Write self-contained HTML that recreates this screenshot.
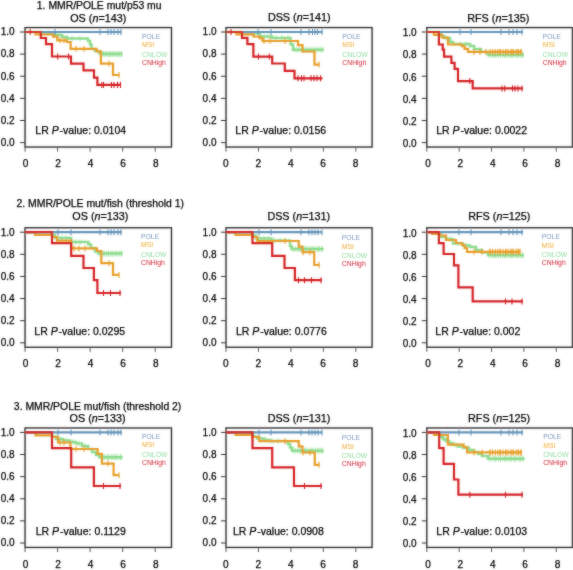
<!DOCTYPE html><html><head><meta charset="utf-8"><style>html,body{margin:0;padding:0;background:#fff;width:573px;height:570px;overflow:hidden}svg{display:block;will-change:transform}text{font-family:"Liberation Sans",sans-serif}.t{stroke:#000;stroke-width:0.25px}</style></head><body>
<svg width="573" height="570" viewBox="0 0 573 570">
<defs><filter id="bl" x="0" y="0" width="573" height="570" filterUnits="userSpaceOnUse"><feGaussianBlur in="SourceGraphic" stdDeviation="1" result="b"/><feComposite in="SourceGraphic" in2="b" operator="arithmetic" k1="0" k2="0.6" k3="0.4" k4="0"/></filter></defs><rect width="573" height="570" fill="#fff"/><g filter="url(#bl)">
<g><rect x="25.05" y="27.58" width="146.43" height="119.45" fill="none" stroke="#2a2a2a" stroke-width="1.35"/><line x1="20.05" y1="142.60" x2="25.05" y2="142.60" stroke="#333" stroke-width="1"/><text x="14.55" y="145.90" font-size="10" text-anchor="end" fill="#000" class="t">0.0</text><line x1="20.05" y1="120.48" x2="25.05" y2="120.48" stroke="#333" stroke-width="1"/><text x="14.55" y="123.78" font-size="10" text-anchor="end" fill="#000" class="t">0.2</text><line x1="20.05" y1="98.36" x2="25.05" y2="98.36" stroke="#333" stroke-width="1"/><text x="14.55" y="101.66" font-size="10" text-anchor="end" fill="#000" class="t">0.4</text><line x1="20.05" y1="76.24" x2="25.05" y2="76.24" stroke="#333" stroke-width="1"/><text x="14.55" y="79.54" font-size="10" text-anchor="end" fill="#000" class="t">0.6</text><line x1="20.05" y1="54.12" x2="25.05" y2="54.12" stroke="#333" stroke-width="1"/><text x="14.55" y="57.42" font-size="10" text-anchor="end" fill="#000" class="t">0.8</text><line x1="20.05" y1="32.00" x2="25.05" y2="32.00" stroke="#333" stroke-width="1"/><text x="14.55" y="35.30" font-size="10" text-anchor="end" fill="#000" class="t">1.0</text><line x1="25.05" y1="147.02" x2="25.05" y2="151.62" stroke="#555" stroke-width="1"/><text x="25.55" y="167.22" font-size="10.1" text-anchor="middle" fill="#000" class="t">0</text><line x1="57.59" y1="147.02" x2="57.59" y2="151.62" stroke="#555" stroke-width="1"/><text x="58.09" y="167.22" font-size="10.1" text-anchor="middle" fill="#000" class="t">2</text><line x1="90.13" y1="147.02" x2="90.13" y2="151.62" stroke="#555" stroke-width="1"/><text x="90.63" y="167.22" font-size="10.1" text-anchor="middle" fill="#000" class="t">4</text><line x1="122.67" y1="147.02" x2="122.67" y2="151.62" stroke="#555" stroke-width="1"/><text x="123.17" y="167.22" font-size="10.1" text-anchor="middle" fill="#000" class="t">6</text><line x1="155.21" y1="147.02" x2="155.21" y2="151.62" stroke="#555" stroke-width="1"/><text x="155.71" y="167.22" font-size="10.1" text-anchor="middle" fill="#000" class="t">8</text><text x="99.20" y="9.10" font-size="10.4" text-anchor="middle" fill="#000" class="t">1. MMR/POLE mut/p53 mu</text><text x="98.25" y="21.50" font-size="10.8" text-anchor="middle" fill="#000" class="t">OS (<tspan font-style="italic">n</tspan>=143)</text><text x="35.30" y="133.70" font-size="10.5" fill="#000" class="t">LR <tspan font-style="italic">P</tspan><tspan dx="0.9">-value: 0.0104</tspan></text><text x="142.00" y="38.60" font-size="7.2" fill="#7896bc" transform="translate(142.00,0) scale(0.95,1) translate(-142.00,0)">POLE</text><text x="142.00" y="47.00" font-size="7.2" fill="#eeaa30" transform="translate(142.00,0) scale(0.95,1) translate(-142.00,0)">MSI</text><text x="142.00" y="56.80" font-size="7.2" fill="#90dca0" transform="translate(142.00,0) scale(0.95,1) translate(-142.00,0)">CNLOW</text><text x="142.00" y="64.60" font-size="7.2" fill="#d02436" transform="translate(142.00,0) scale(0.95,1) translate(-142.00,0)">CNHigh</text><path d="M25.1,32.0H42.0V33.2H55.0V35.0H62.0V37.0H67.0V38.5H88.0V41.0H90.0V44.5H91.5V49.0H95.0V51.0H99.0V53.0H102.5V54.0H122.5" fill="none" stroke="#8cdc8e" stroke-width="2.5" stroke-linejoin="miter" stroke-linecap="butt"/><line x1="48.0" y1="30.2" x2="48.0" y2="36.2" stroke="#8cdc8e" stroke-width="0.9" stroke-opacity="0.75"/><line x1="58.0" y1="32.0" x2="58.0" y2="38.0" stroke="#8cdc8e" stroke-width="0.9" stroke-opacity="0.75"/><line x1="72.0" y1="35.5" x2="72.0" y2="41.5" stroke="#8cdc8e" stroke-width="0.9" stroke-opacity="0.75"/><line x1="80.0" y1="35.5" x2="80.0" y2="41.5" stroke="#8cdc8e" stroke-width="0.9" stroke-opacity="0.75"/><line x1="100.0" y1="50.0" x2="100.0" y2="56.0" stroke="#8cdc8e" stroke-width="0.9" stroke-opacity="0.75"/><line x1="103.0" y1="51.0" x2="103.0" y2="57.0" stroke="#8cdc8e" stroke-width="0.9" stroke-opacity="0.75"/><line x1="106.0" y1="51.0" x2="106.0" y2="57.0" stroke="#8cdc8e" stroke-width="0.9" stroke-opacity="0.75"/><line x1="109.0" y1="51.0" x2="109.0" y2="57.0" stroke="#8cdc8e" stroke-width="0.9" stroke-opacity="0.75"/><line x1="112.0" y1="51.0" x2="112.0" y2="57.0" stroke="#8cdc8e" stroke-width="0.9" stroke-opacity="0.75"/><line x1="115.0" y1="51.0" x2="115.0" y2="57.0" stroke="#8cdc8e" stroke-width="0.9" stroke-opacity="0.75"/><line x1="118.0" y1="51.0" x2="118.0" y2="57.0" stroke="#8cdc8e" stroke-width="0.9" stroke-opacity="0.75"/><line x1="121.0" y1="51.0" x2="121.0" y2="57.0" stroke="#8cdc8e" stroke-width="0.9" stroke-opacity="0.75"/><line x1="104.0" y1="51.0" x2="104.0" y2="57.0" stroke="#8cdc8e" stroke-width="0.9" stroke-opacity="0.75"/><line x1="106.2" y1="51.0" x2="106.2" y2="57.0" stroke="#8cdc8e" stroke-width="0.9" stroke-opacity="0.75"/><line x1="108.4" y1="51.0" x2="108.4" y2="57.0" stroke="#8cdc8e" stroke-width="0.9" stroke-opacity="0.75"/><line x1="110.6" y1="51.0" x2="110.6" y2="57.0" stroke="#8cdc8e" stroke-width="0.9" stroke-opacity="0.75"/><line x1="112.8" y1="51.0" x2="112.8" y2="57.0" stroke="#8cdc8e" stroke-width="0.9" stroke-opacity="0.75"/><line x1="115.0" y1="51.0" x2="115.0" y2="57.0" stroke="#8cdc8e" stroke-width="0.9" stroke-opacity="0.75"/><line x1="117.2" y1="51.0" x2="117.2" y2="57.0" stroke="#8cdc8e" stroke-width="0.9" stroke-opacity="0.75"/><line x1="119.4" y1="51.0" x2="119.4" y2="57.0" stroke="#8cdc8e" stroke-width="0.9" stroke-opacity="0.75"/><line x1="121.6" y1="51.0" x2="121.6" y2="57.0" stroke="#8cdc8e" stroke-width="0.9" stroke-opacity="0.75"/><path d="M25.1,32.0H35.5V34.5H53.0V36.6H57.3V40.3H66.9V42.0H70.6V48.8H96.6V51.4H100.9V63.6H113.0V75.0H119.5" fill="none" stroke="#e89e28" stroke-width="2.2" stroke-linejoin="miter" stroke-linecap="butt"/><line x1="60.0" y1="37.3" x2="60.0" y2="43.3" stroke="#e89e28" stroke-width="1.1" stroke-opacity="1"/><line x1="64.0" y1="37.3" x2="64.0" y2="43.3" stroke="#e89e28" stroke-width="1.1" stroke-opacity="1"/><line x1="76.0" y1="45.8" x2="76.0" y2="51.8" stroke="#e89e28" stroke-width="1.1" stroke-opacity="1"/><line x1="84.0" y1="45.8" x2="84.0" y2="51.8" stroke="#e89e28" stroke-width="1.1" stroke-opacity="1"/><line x1="109.0" y1="60.6" x2="109.0" y2="66.6" stroke="#e89e28" stroke-width="1.1" stroke-opacity="1"/><line x1="119.0" y1="72.0" x2="119.0" y2="78.0" stroke="#e89e28" stroke-width="1.1" stroke-opacity="1"/><path d="M25.1,32.0H121.5" fill="none" stroke="#6494b8" stroke-width="2.2" stroke-linejoin="miter" stroke-linecap="butt"/><line x1="55.0" y1="29.0" x2="55.0" y2="35.0" stroke="#6494b8" stroke-width="1.1" stroke-opacity="1"/><line x1="100.0" y1="29.0" x2="100.0" y2="35.0" stroke="#6494b8" stroke-width="1.1" stroke-opacity="1"/><line x1="108.0" y1="29.0" x2="108.0" y2="35.0" stroke="#6494b8" stroke-width="1.1" stroke-opacity="1"/><line x1="111.0" y1="29.0" x2="111.0" y2="35.0" stroke="#6494b8" stroke-width="1.1" stroke-opacity="1"/><line x1="114.0" y1="29.0" x2="114.0" y2="35.0" stroke="#6494b8" stroke-width="1.1" stroke-opacity="1"/><line x1="118.0" y1="29.0" x2="118.0" y2="35.0" stroke="#6494b8" stroke-width="1.1" stroke-opacity="1"/><line x1="121.0" y1="29.0" x2="121.0" y2="35.0" stroke="#6494b8" stroke-width="1.1" stroke-opacity="1"/><path d="M25.1,32.0H40.8V38.0H46.0V44.2H52.0V56.5H71.0V63.6H83.5V70.3H94.0V77.6H97.4V84.9H121.0" fill="none" stroke="#d41e22" stroke-width="2.2" stroke-linejoin="miter" stroke-linecap="butt"/><line x1="30.2" y1="29.0" x2="30.2" y2="35.0" stroke="#d41e22" stroke-width="1.1" stroke-opacity="1"/><line x1="57.7" y1="53.5" x2="57.7" y2="59.5" stroke="#d41e22" stroke-width="1.1" stroke-opacity="1"/><line x1="68.6" y1="53.5" x2="68.6" y2="59.5" stroke="#d41e22" stroke-width="1.1" stroke-opacity="1"/><line x1="101.8" y1="81.9" x2="101.8" y2="87.9" stroke="#d41e22" stroke-width="1.1" stroke-opacity="1"/><line x1="103.5" y1="81.9" x2="103.5" y2="87.9" stroke="#d41e22" stroke-width="1.1" stroke-opacity="1"/><line x1="111.4" y1="81.9" x2="111.4" y2="87.9" stroke="#d41e22" stroke-width="1.1" stroke-opacity="1"/><line x1="114.0" y1="81.9" x2="114.0" y2="87.9" stroke="#d41e22" stroke-width="1.1" stroke-opacity="1"/><line x1="117.5" y1="81.9" x2="117.5" y2="87.9" stroke="#d41e22" stroke-width="1.1" stroke-opacity="1"/><line x1="120.5" y1="81.9" x2="120.5" y2="87.9" stroke="#d41e22" stroke-width="1.1" stroke-opacity="1"/></g>
<g><rect x="226.00" y="27.58" width="146.07" height="119.45" fill="none" stroke="#2a2a2a" stroke-width="1.35"/><line x1="221.00" y1="142.60" x2="226.00" y2="142.60" stroke="#333" stroke-width="1"/><text x="216.50" y="145.90" font-size="10" text-anchor="end" fill="#000" class="t">0.0</text><line x1="221.00" y1="120.48" x2="226.00" y2="120.48" stroke="#333" stroke-width="1"/><text x="216.50" y="123.78" font-size="10" text-anchor="end" fill="#000" class="t">0.2</text><line x1="221.00" y1="98.36" x2="226.00" y2="98.36" stroke="#333" stroke-width="1"/><text x="216.50" y="101.66" font-size="10" text-anchor="end" fill="#000" class="t">0.4</text><line x1="221.00" y1="76.24" x2="226.00" y2="76.24" stroke="#333" stroke-width="1"/><text x="216.50" y="79.54" font-size="10" text-anchor="end" fill="#000" class="t">0.6</text><line x1="221.00" y1="54.12" x2="226.00" y2="54.12" stroke="#333" stroke-width="1"/><text x="216.50" y="57.42" font-size="10" text-anchor="end" fill="#000" class="t">0.8</text><line x1="221.00" y1="32.00" x2="226.00" y2="32.00" stroke="#333" stroke-width="1"/><text x="216.50" y="35.30" font-size="10" text-anchor="end" fill="#000" class="t">1.0</text><line x1="226.00" y1="147.02" x2="226.00" y2="151.62" stroke="#555" stroke-width="1"/><text x="225.80" y="167.22" font-size="10.1" text-anchor="middle" fill="#000" class="t">0</text><line x1="258.46" y1="147.02" x2="258.46" y2="151.62" stroke="#555" stroke-width="1"/><text x="258.26" y="167.22" font-size="10.1" text-anchor="middle" fill="#000" class="t">2</text><line x1="290.92" y1="147.02" x2="290.92" y2="151.62" stroke="#555" stroke-width="1"/><text x="290.72" y="167.22" font-size="10.1" text-anchor="middle" fill="#000" class="t">4</text><line x1="323.38" y1="147.02" x2="323.38" y2="151.62" stroke="#555" stroke-width="1"/><text x="323.18" y="167.22" font-size="10.1" text-anchor="middle" fill="#000" class="t">6</text><line x1="355.84" y1="147.02" x2="355.84" y2="151.62" stroke="#555" stroke-width="1"/><text x="355.64" y="167.22" font-size="10.1" text-anchor="middle" fill="#000" class="t">8</text><text x="299.25" y="21.40" font-size="10.8" text-anchor="middle" fill="#000" class="t">DSS (<tspan font-style="italic">n</tspan>=141)</text><text x="235.30" y="133.70" font-size="10.5" fill="#000" class="t">LR <tspan font-style="italic">P</tspan><tspan dx="0.9">-value: 0.0156</tspan></text><text x="342.30" y="38.60" font-size="7.2" fill="#7896bc" transform="translate(342.30,0) scale(0.95,1) translate(-342.30,0)">POLE</text><text x="342.30" y="47.00" font-size="7.2" fill="#eeaa30" transform="translate(342.30,0) scale(0.95,1) translate(-342.30,0)">MSI</text><text x="342.30" y="56.80" font-size="7.2" fill="#90dca0" transform="translate(342.30,0) scale(0.95,1) translate(-342.30,0)">CNLOW</text><text x="342.30" y="64.60" font-size="7.2" fill="#d02436" transform="translate(342.30,0) scale(0.95,1) translate(-342.30,0)">CNHigh</text><path d="M226.0,32.0H243.0V33.3H260.0V36.5H272.0V38.0H290.6V44.5H293.0V49.7H323.7" fill="none" stroke="#8cdc8e" stroke-width="2.5" stroke-linejoin="miter" stroke-linecap="butt"/><line x1="248.0" y1="30.3" x2="248.0" y2="36.3" stroke="#8cdc8e" stroke-width="0.9" stroke-opacity="0.75"/><line x1="254.0" y1="30.3" x2="254.0" y2="36.3" stroke="#8cdc8e" stroke-width="0.9" stroke-opacity="0.75"/><line x1="264.0" y1="33.5" x2="264.0" y2="39.5" stroke="#8cdc8e" stroke-width="0.9" stroke-opacity="0.75"/><line x1="268.0" y1="33.5" x2="268.0" y2="39.5" stroke="#8cdc8e" stroke-width="0.9" stroke-opacity="0.75"/><line x1="276.0" y1="35.0" x2="276.0" y2="41.0" stroke="#8cdc8e" stroke-width="0.9" stroke-opacity="0.75"/><line x1="282.0" y1="35.0" x2="282.0" y2="41.0" stroke="#8cdc8e" stroke-width="0.9" stroke-opacity="0.75"/><line x1="288.0" y1="35.0" x2="288.0" y2="41.0" stroke="#8cdc8e" stroke-width="0.9" stroke-opacity="0.75"/><line x1="294.5" y1="46.7" x2="294.5" y2="52.7" stroke="#8cdc8e" stroke-width="0.9" stroke-opacity="0.75"/><line x1="296.7" y1="46.7" x2="296.7" y2="52.7" stroke="#8cdc8e" stroke-width="0.9" stroke-opacity="0.75"/><line x1="298.9" y1="46.7" x2="298.9" y2="52.7" stroke="#8cdc8e" stroke-width="0.9" stroke-opacity="0.75"/><line x1="301.1" y1="46.7" x2="301.1" y2="52.7" stroke="#8cdc8e" stroke-width="0.9" stroke-opacity="0.75"/><line x1="303.3" y1="46.7" x2="303.3" y2="52.7" stroke="#8cdc8e" stroke-width="0.9" stroke-opacity="0.75"/><line x1="305.5" y1="46.7" x2="305.5" y2="52.7" stroke="#8cdc8e" stroke-width="0.9" stroke-opacity="0.75"/><line x1="307.7" y1="46.7" x2="307.7" y2="52.7" stroke="#8cdc8e" stroke-width="0.9" stroke-opacity="0.75"/><line x1="309.9" y1="46.7" x2="309.9" y2="52.7" stroke="#8cdc8e" stroke-width="0.9" stroke-opacity="0.75"/><line x1="312.1" y1="46.7" x2="312.1" y2="52.7" stroke="#8cdc8e" stroke-width="0.9" stroke-opacity="0.75"/><line x1="314.3" y1="46.7" x2="314.3" y2="52.7" stroke="#8cdc8e" stroke-width="0.9" stroke-opacity="0.75"/><line x1="316.5" y1="46.7" x2="316.5" y2="52.7" stroke="#8cdc8e" stroke-width="0.9" stroke-opacity="0.75"/><line x1="318.7" y1="46.7" x2="318.7" y2="52.7" stroke="#8cdc8e" stroke-width="0.9" stroke-opacity="0.75"/><line x1="320.9" y1="46.7" x2="320.9" y2="52.7" stroke="#8cdc8e" stroke-width="0.9" stroke-opacity="0.75"/><line x1="323.1" y1="46.7" x2="323.1" y2="52.7" stroke="#8cdc8e" stroke-width="0.9" stroke-opacity="0.75"/><path d="M226.0,32.0H236.5V34.4H253.4V36.5H259.5V38.2H262.5V41.0H298.0V45.2H302.5V51.5H314.5V64.6H319.5" fill="none" stroke="#e89e28" stroke-width="2.2" stroke-linejoin="miter" stroke-linecap="butt"/><line x1="264.0" y1="38.0" x2="264.0" y2="44.0" stroke="#e89e28" stroke-width="1.1" stroke-opacity="1"/><line x1="270.0" y1="38.0" x2="270.0" y2="44.0" stroke="#e89e28" stroke-width="1.1" stroke-opacity="1"/><line x1="285.0" y1="38.0" x2="285.0" y2="44.0" stroke="#e89e28" stroke-width="1.1" stroke-opacity="1"/><line x1="319.0" y1="61.6" x2="319.0" y2="67.6" stroke="#e89e28" stroke-width="1.1" stroke-opacity="1"/><path d="M226.0,32.0H322.5" fill="none" stroke="#6494b8" stroke-width="2.2" stroke-linejoin="miter" stroke-linecap="butt"/><line x1="258.0" y1="29.0" x2="258.0" y2="35.0" stroke="#6494b8" stroke-width="1.1" stroke-opacity="1"/><line x1="271.0" y1="29.0" x2="271.0" y2="35.0" stroke="#6494b8" stroke-width="1.1" stroke-opacity="1"/><line x1="301.0" y1="29.0" x2="301.0" y2="35.0" stroke="#6494b8" stroke-width="1.1" stroke-opacity="1"/><line x1="309.0" y1="29.0" x2="309.0" y2="35.0" stroke="#6494b8" stroke-width="1.1" stroke-opacity="1"/><line x1="312.5" y1="29.0" x2="312.5" y2="35.0" stroke="#6494b8" stroke-width="1.1" stroke-opacity="1"/><line x1="315.0" y1="29.0" x2="315.0" y2="35.0" stroke="#6494b8" stroke-width="1.1" stroke-opacity="1"/><line x1="317.5" y1="29.0" x2="317.5" y2="35.0" stroke="#6494b8" stroke-width="1.1" stroke-opacity="1"/><line x1="322.0" y1="29.0" x2="322.0" y2="35.0" stroke="#6494b8" stroke-width="1.1" stroke-opacity="1"/><path d="M226.0,32.0H242.0V37.8H247.4V44.1H253.4V56.6H272.2V63.5H284.8V70.9H294.5V78.3H322.5" fill="none" stroke="#d41e22" stroke-width="2.2" stroke-linejoin="miter" stroke-linecap="butt"/><line x1="231.0" y1="29.0" x2="231.0" y2="35.0" stroke="#d41e22" stroke-width="1.1" stroke-opacity="1"/><line x1="258.5" y1="53.6" x2="258.5" y2="59.6" stroke="#d41e22" stroke-width="1.1" stroke-opacity="1"/><line x1="269.3" y1="53.6" x2="269.3" y2="59.6" stroke="#d41e22" stroke-width="1.1" stroke-opacity="1"/><line x1="298.0" y1="75.3" x2="298.0" y2="81.3" stroke="#d41e22" stroke-width="1.1" stroke-opacity="1"/><line x1="301.5" y1="75.3" x2="301.5" y2="81.3" stroke="#d41e22" stroke-width="1.1" stroke-opacity="1"/><line x1="304.0" y1="75.3" x2="304.0" y2="81.3" stroke="#d41e22" stroke-width="1.1" stroke-opacity="1"/><line x1="311.0" y1="75.3" x2="311.0" y2="81.3" stroke="#d41e22" stroke-width="1.1" stroke-opacity="1"/><line x1="314.0" y1="75.3" x2="314.0" y2="81.3" stroke="#d41e22" stroke-width="1.1" stroke-opacity="1"/><line x1="317.0" y1="75.3" x2="317.0" y2="81.3" stroke="#d41e22" stroke-width="1.1" stroke-opacity="1"/><line x1="320.5" y1="75.3" x2="320.5" y2="81.3" stroke="#d41e22" stroke-width="1.1" stroke-opacity="1"/></g>
<g><rect x="426.80" y="27.58" width="145.62" height="119.45" fill="none" stroke="#2a2a2a" stroke-width="1.35"/><line x1="421.80" y1="142.60" x2="426.80" y2="142.60" stroke="#333" stroke-width="1"/><text x="416.70" y="146.90" font-size="10" text-anchor="end" fill="#000" class="t">0.0</text><line x1="421.80" y1="120.48" x2="426.80" y2="120.48" stroke="#333" stroke-width="1"/><text x="416.70" y="124.78" font-size="10" text-anchor="end" fill="#000" class="t">0.2</text><line x1="421.80" y1="98.36" x2="426.80" y2="98.36" stroke="#333" stroke-width="1"/><text x="416.70" y="102.66" font-size="10" text-anchor="end" fill="#000" class="t">0.4</text><line x1="421.80" y1="76.24" x2="426.80" y2="76.24" stroke="#333" stroke-width="1"/><text x="416.70" y="80.54" font-size="10" text-anchor="end" fill="#000" class="t">0.6</text><line x1="421.80" y1="54.12" x2="426.80" y2="54.12" stroke="#333" stroke-width="1"/><text x="416.70" y="58.42" font-size="10" text-anchor="end" fill="#000" class="t">0.8</text><line x1="421.80" y1="32.00" x2="426.80" y2="32.00" stroke="#333" stroke-width="1"/><text x="416.70" y="36.30" font-size="10" text-anchor="end" fill="#000" class="t">1.0</text><line x1="426.80" y1="147.02" x2="426.80" y2="151.62" stroke="#555" stroke-width="1"/><text x="428.00" y="167.22" font-size="10.1" text-anchor="middle" fill="#000" class="t">0</text><line x1="459.16" y1="147.02" x2="459.16" y2="151.62" stroke="#555" stroke-width="1"/><text x="460.36" y="167.22" font-size="10.1" text-anchor="middle" fill="#000" class="t">2</text><line x1="491.52" y1="147.02" x2="491.52" y2="151.62" stroke="#555" stroke-width="1"/><text x="492.72" y="167.22" font-size="10.1" text-anchor="middle" fill="#000" class="t">4</text><line x1="523.88" y1="147.02" x2="523.88" y2="151.62" stroke="#555" stroke-width="1"/><text x="525.08" y="167.22" font-size="10.1" text-anchor="middle" fill="#000" class="t">6</text><line x1="556.24" y1="147.02" x2="556.24" y2="151.62" stroke="#555" stroke-width="1"/><text x="557.44" y="167.22" font-size="10.1" text-anchor="middle" fill="#000" class="t">8</text><text x="498.25" y="21.50" font-size="10.8" text-anchor="middle" fill="#000" class="t">RFS (<tspan font-style="italic">n</tspan>=135)</text><text x="436.20" y="133.70" font-size="10.5" fill="#000" class="t">LR <tspan font-style="italic">P</tspan><tspan dx="0.9">-value: 0.0022</tspan></text><text x="542.70" y="38.60" font-size="7.2" fill="#7896bc" transform="translate(542.70,0) scale(0.95,1) translate(-542.70,0)">POLE</text><text x="542.70" y="47.00" font-size="7.2" fill="#eeaa30" transform="translate(542.70,0) scale(0.95,1) translate(-542.70,0)">MSI</text><text x="542.70" y="56.80" font-size="7.2" fill="#90dca0" transform="translate(542.70,0) scale(0.95,1) translate(-542.70,0)">CNLOW</text><text x="542.70" y="64.60" font-size="7.2" fill="#d02436" transform="translate(542.70,0) scale(0.95,1) translate(-542.70,0)">CNHigh</text><path d="M426.8,32.0H439.0V34.0H441.0V36.0H444.0V38.0H450.0V42.0H453.0V44.0H470.0V46.0H474.0V49.0H481.0V52.0H488.0V54.9H524.0" fill="none" stroke="#8cdc8e" stroke-width="2.5" stroke-linejoin="miter" stroke-linecap="butt"/><line x1="446.0" y1="35.0" x2="446.0" y2="41.0" stroke="#8cdc8e" stroke-width="0.9" stroke-opacity="0.75"/><line x1="460.0" y1="41.0" x2="460.0" y2="47.0" stroke="#8cdc8e" stroke-width="0.9" stroke-opacity="0.75"/><line x1="466.0" y1="41.0" x2="466.0" y2="47.0" stroke="#8cdc8e" stroke-width="0.9" stroke-opacity="0.75"/><line x1="495.0" y1="51.9" x2="495.0" y2="57.9" stroke="#8cdc8e" stroke-width="0.9" stroke-opacity="0.75"/><line x1="505.0" y1="51.9" x2="505.0" y2="57.9" stroke="#8cdc8e" stroke-width="0.9" stroke-opacity="0.75"/><line x1="512.0" y1="51.9" x2="512.0" y2="57.9" stroke="#8cdc8e" stroke-width="0.9" stroke-opacity="0.75"/><line x1="518.0" y1="51.9" x2="518.0" y2="57.9" stroke="#8cdc8e" stroke-width="0.9" stroke-opacity="0.75"/><line x1="523.0" y1="51.9" x2="523.0" y2="57.9" stroke="#8cdc8e" stroke-width="0.9" stroke-opacity="0.75"/><line x1="489.5" y1="51.9" x2="489.5" y2="57.9" stroke="#8cdc8e" stroke-width="0.9" stroke-opacity="0.75"/><line x1="491.7" y1="51.9" x2="491.7" y2="57.9" stroke="#8cdc8e" stroke-width="0.9" stroke-opacity="0.75"/><line x1="493.9" y1="51.9" x2="493.9" y2="57.9" stroke="#8cdc8e" stroke-width="0.9" stroke-opacity="0.75"/><line x1="496.1" y1="51.9" x2="496.1" y2="57.9" stroke="#8cdc8e" stroke-width="0.9" stroke-opacity="0.75"/><line x1="498.3" y1="51.9" x2="498.3" y2="57.9" stroke="#8cdc8e" stroke-width="0.9" stroke-opacity="0.75"/><line x1="500.5" y1="51.9" x2="500.5" y2="57.9" stroke="#8cdc8e" stroke-width="0.9" stroke-opacity="0.75"/><line x1="502.7" y1="51.9" x2="502.7" y2="57.9" stroke="#8cdc8e" stroke-width="0.9" stroke-opacity="0.75"/><line x1="504.9" y1="51.9" x2="504.9" y2="57.9" stroke="#8cdc8e" stroke-width="0.9" stroke-opacity="0.75"/><line x1="507.1" y1="51.9" x2="507.1" y2="57.9" stroke="#8cdc8e" stroke-width="0.9" stroke-opacity="0.75"/><line x1="509.3" y1="51.9" x2="509.3" y2="57.9" stroke="#8cdc8e" stroke-width="0.9" stroke-opacity="0.75"/><line x1="511.5" y1="51.9" x2="511.5" y2="57.9" stroke="#8cdc8e" stroke-width="0.9" stroke-opacity="0.75"/><line x1="513.7" y1="51.9" x2="513.7" y2="57.9" stroke="#8cdc8e" stroke-width="0.9" stroke-opacity="0.75"/><line x1="515.9" y1="51.9" x2="515.9" y2="57.9" stroke="#8cdc8e" stroke-width="0.9" stroke-opacity="0.75"/><line x1="518.1" y1="51.9" x2="518.1" y2="57.9" stroke="#8cdc8e" stroke-width="0.9" stroke-opacity="0.75"/><line x1="520.3" y1="51.9" x2="520.3" y2="57.9" stroke="#8cdc8e" stroke-width="0.9" stroke-opacity="0.75"/><line x1="522.5" y1="51.9" x2="522.5" y2="57.9" stroke="#8cdc8e" stroke-width="0.9" stroke-opacity="0.75"/><path d="M426.8,32.0H434.0V34.9H442.0V37.5H448.0V44.5H462.0V46.2H464.5V48.8H468.0V51.9H522.1" fill="none" stroke="#e89e28" stroke-width="2.2" stroke-linejoin="miter" stroke-linecap="butt"/><line x1="474.0" y1="48.9" x2="474.0" y2="54.9" stroke="#e89e28" stroke-width="1.1" stroke-opacity="1"/><line x1="480.0" y1="48.9" x2="480.0" y2="54.9" stroke="#e89e28" stroke-width="1.1" stroke-opacity="1"/><line x1="486.0" y1="48.9" x2="486.0" y2="54.9" stroke="#e89e28" stroke-width="1.1" stroke-opacity="1"/><line x1="500.0" y1="48.9" x2="500.0" y2="54.9" stroke="#e89e28" stroke-width="1.1" stroke-opacity="1"/><line x1="506.0" y1="48.9" x2="506.0" y2="54.9" stroke="#e89e28" stroke-width="1.1" stroke-opacity="1"/><line x1="512.0" y1="48.9" x2="512.0" y2="54.9" stroke="#e89e28" stroke-width="1.1" stroke-opacity="1"/><line x1="518.0" y1="48.9" x2="518.0" y2="54.9" stroke="#e89e28" stroke-width="1.1" stroke-opacity="1"/><line x1="521.0" y1="48.9" x2="521.0" y2="54.9" stroke="#e89e28" stroke-width="1.1" stroke-opacity="1"/><line x1="490.0" y1="48.9" x2="490.0" y2="54.9" stroke="#e89e28" stroke-width="1.1" stroke-opacity="1"/><line x1="492.6" y1="48.9" x2="492.6" y2="54.9" stroke="#e89e28" stroke-width="1.1" stroke-opacity="1"/><line x1="495.2" y1="48.9" x2="495.2" y2="54.9" stroke="#e89e28" stroke-width="1.1" stroke-opacity="1"/><line x1="497.8" y1="48.9" x2="497.8" y2="54.9" stroke="#e89e28" stroke-width="1.1" stroke-opacity="1"/><line x1="500.4" y1="48.9" x2="500.4" y2="54.9" stroke="#e89e28" stroke-width="1.1" stroke-opacity="1"/><line x1="503.0" y1="48.9" x2="503.0" y2="54.9" stroke="#e89e28" stroke-width="1.1" stroke-opacity="1"/><line x1="505.6" y1="48.9" x2="505.6" y2="54.9" stroke="#e89e28" stroke-width="1.1" stroke-opacity="1"/><line x1="508.2" y1="48.9" x2="508.2" y2="54.9" stroke="#e89e28" stroke-width="1.1" stroke-opacity="1"/><line x1="510.8" y1="48.9" x2="510.8" y2="54.9" stroke="#e89e28" stroke-width="1.1" stroke-opacity="1"/><line x1="513.4" y1="48.9" x2="513.4" y2="54.9" stroke="#e89e28" stroke-width="1.1" stroke-opacity="1"/><line x1="516.0" y1="48.9" x2="516.0" y2="54.9" stroke="#e89e28" stroke-width="1.1" stroke-opacity="1"/><line x1="518.6" y1="48.9" x2="518.6" y2="54.9" stroke="#e89e28" stroke-width="1.1" stroke-opacity="1"/><line x1="521.2" y1="48.9" x2="521.2" y2="54.9" stroke="#e89e28" stroke-width="1.1" stroke-opacity="1"/><path d="M426.8,32.0H523.0" fill="none" stroke="#6494b8" stroke-width="2.2" stroke-linejoin="miter" stroke-linecap="butt"/><line x1="460.0" y1="29.0" x2="460.0" y2="35.0" stroke="#6494b8" stroke-width="1.1" stroke-opacity="1"/><line x1="471.0" y1="29.0" x2="471.0" y2="35.0" stroke="#6494b8" stroke-width="1.1" stroke-opacity="1"/><line x1="501.0" y1="29.0" x2="501.0" y2="35.0" stroke="#6494b8" stroke-width="1.1" stroke-opacity="1"/><line x1="509.0" y1="29.0" x2="509.0" y2="35.0" stroke="#6494b8" stroke-width="1.1" stroke-opacity="1"/><line x1="513.0" y1="29.0" x2="513.0" y2="35.0" stroke="#6494b8" stroke-width="1.1" stroke-opacity="1"/><line x1="517.0" y1="29.0" x2="517.0" y2="35.0" stroke="#6494b8" stroke-width="1.1" stroke-opacity="1"/><line x1="522.0" y1="29.0" x2="522.0" y2="35.0" stroke="#6494b8" stroke-width="1.1" stroke-opacity="1"/><path d="M426.8,32.0H438.9V44.5H442.7V49.7H444.1V56.7H451.4V62.8H454.6V68.9H458.0V81.1H472.7V88.4H523.0" fill="none" stroke="#d41e22" stroke-width="2.2" stroke-linejoin="miter" stroke-linecap="butt"/><line x1="469.8" y1="78.1" x2="469.8" y2="84.1" stroke="#d41e22" stroke-width="1.1" stroke-opacity="1"/><line x1="502.0" y1="85.4" x2="502.0" y2="91.4" stroke="#d41e22" stroke-width="1.1" stroke-opacity="1"/><line x1="504.7" y1="85.4" x2="504.7" y2="91.4" stroke="#d41e22" stroke-width="1.1" stroke-opacity="1"/><line x1="512.5" y1="85.4" x2="512.5" y2="91.4" stroke="#d41e22" stroke-width="1.1" stroke-opacity="1"/><line x1="515.0" y1="85.4" x2="515.0" y2="91.4" stroke="#d41e22" stroke-width="1.1" stroke-opacity="1"/><line x1="518.0" y1="85.4" x2="518.0" y2="91.4" stroke="#d41e22" stroke-width="1.1" stroke-opacity="1"/><line x1="522.0" y1="85.4" x2="522.0" y2="91.4" stroke="#d41e22" stroke-width="1.1" stroke-opacity="1"/></g>
<g><rect x="25.05" y="227.78" width="146.43" height="119.45" fill="none" stroke="#2a2a2a" stroke-width="1.35"/><line x1="20.05" y1="342.80" x2="25.05" y2="342.80" stroke="#333" stroke-width="1"/><text x="14.55" y="346.10" font-size="10" text-anchor="end" fill="#000" class="t">0.0</text><line x1="20.05" y1="320.68" x2="25.05" y2="320.68" stroke="#333" stroke-width="1"/><text x="14.55" y="323.98" font-size="10" text-anchor="end" fill="#000" class="t">0.2</text><line x1="20.05" y1="298.56" x2="25.05" y2="298.56" stroke="#333" stroke-width="1"/><text x="14.55" y="301.86" font-size="10" text-anchor="end" fill="#000" class="t">0.4</text><line x1="20.05" y1="276.44" x2="25.05" y2="276.44" stroke="#333" stroke-width="1"/><text x="14.55" y="279.74" font-size="10" text-anchor="end" fill="#000" class="t">0.6</text><line x1="20.05" y1="254.32" x2="25.05" y2="254.32" stroke="#333" stroke-width="1"/><text x="14.55" y="257.62" font-size="10" text-anchor="end" fill="#000" class="t">0.8</text><line x1="20.05" y1="232.20" x2="25.05" y2="232.20" stroke="#333" stroke-width="1"/><text x="14.55" y="235.50" font-size="10" text-anchor="end" fill="#000" class="t">1.0</text><line x1="25.05" y1="347.22" x2="25.05" y2="351.82" stroke="#555" stroke-width="1"/><text x="25.55" y="367.42" font-size="10.1" text-anchor="middle" fill="#000" class="t">0</text><line x1="57.59" y1="347.22" x2="57.59" y2="351.82" stroke="#555" stroke-width="1"/><text x="58.09" y="367.42" font-size="10.1" text-anchor="middle" fill="#000" class="t">2</text><line x1="90.13" y1="347.22" x2="90.13" y2="351.82" stroke="#555" stroke-width="1"/><text x="90.63" y="367.42" font-size="10.1" text-anchor="middle" fill="#000" class="t">4</text><line x1="122.67" y1="347.22" x2="122.67" y2="351.82" stroke="#555" stroke-width="1"/><text x="123.17" y="367.42" font-size="10.1" text-anchor="middle" fill="#000" class="t">6</text><line x1="155.21" y1="347.22" x2="155.21" y2="351.82" stroke="#555" stroke-width="1"/><text x="155.71" y="367.42" font-size="10.1" text-anchor="middle" fill="#000" class="t">8</text><text x="100.30" y="206.90" font-size="10.4" text-anchor="middle" fill="#000" class="t">2. MMR/POLE mut/fish (threshold 1)</text><text x="100.40" y="219.70" font-size="10.8" text-anchor="middle" fill="#000" class="t">OS (<tspan font-style="italic">n</tspan>=133)</text><text x="34.30" y="334.70" font-size="10.5" fill="#000" class="t">LR <tspan font-style="italic">P</tspan><tspan dx="0.9">-value: 0.0295</tspan></text><text x="141.00" y="238.80" font-size="7.2" fill="#7896bc" transform="translate(141.00,0) scale(0.95,1) translate(-141.00,0)">POLE</text><text x="141.00" y="247.20" font-size="7.2" fill="#eeaa30" transform="translate(141.00,0) scale(0.95,1) translate(-141.00,0)">MSI</text><text x="141.00" y="257.00" font-size="7.2" fill="#90dca0" transform="translate(141.00,0) scale(0.95,1) translate(-141.00,0)">CNLOW</text><text x="141.00" y="264.80" font-size="7.2" fill="#d02436" transform="translate(141.00,0) scale(0.95,1) translate(-141.00,0)">CNHigh</text><path d="M25.1,232.2H52.0V235.0H55.0V238.0H71.2V242.0H88.4V244.5H91.0V248.0H95.0V251.5H98.2V253.6H122.7" fill="none" stroke="#8cdc8e" stroke-width="2.5" stroke-linejoin="miter" stroke-linecap="butt"/><line x1="58.0" y1="235.0" x2="58.0" y2="241.0" stroke="#8cdc8e" stroke-width="0.9" stroke-opacity="0.75"/><line x1="62.0" y1="235.0" x2="62.0" y2="241.0" stroke="#8cdc8e" stroke-width="0.9" stroke-opacity="0.75"/><line x1="66.0" y1="235.0" x2="66.0" y2="241.0" stroke="#8cdc8e" stroke-width="0.9" stroke-opacity="0.75"/><line x1="76.0" y1="239.0" x2="76.0" y2="245.0" stroke="#8cdc8e" stroke-width="0.9" stroke-opacity="0.75"/><line x1="80.0" y1="239.0" x2="80.0" y2="245.0" stroke="#8cdc8e" stroke-width="0.9" stroke-opacity="0.75"/><line x1="104.0" y1="250.6" x2="104.0" y2="256.6" stroke="#8cdc8e" stroke-width="0.9" stroke-opacity="0.75"/><line x1="108.0" y1="250.6" x2="108.0" y2="256.6" stroke="#8cdc8e" stroke-width="0.9" stroke-opacity="0.75"/><line x1="112.0" y1="250.6" x2="112.0" y2="256.6" stroke="#8cdc8e" stroke-width="0.9" stroke-opacity="0.75"/><line x1="116.0" y1="250.6" x2="116.0" y2="256.6" stroke="#8cdc8e" stroke-width="0.9" stroke-opacity="0.75"/><line x1="121.0" y1="250.6" x2="121.0" y2="256.6" stroke="#8cdc8e" stroke-width="0.9" stroke-opacity="0.75"/><line x1="99.7" y1="250.6" x2="99.7" y2="256.6" stroke="#8cdc8e" stroke-width="0.9" stroke-opacity="0.75"/><line x1="101.9" y1="250.6" x2="101.9" y2="256.6" stroke="#8cdc8e" stroke-width="0.9" stroke-opacity="0.75"/><line x1="104.1" y1="250.6" x2="104.1" y2="256.6" stroke="#8cdc8e" stroke-width="0.9" stroke-opacity="0.75"/><line x1="106.3" y1="250.6" x2="106.3" y2="256.6" stroke="#8cdc8e" stroke-width="0.9" stroke-opacity="0.75"/><line x1="108.5" y1="250.6" x2="108.5" y2="256.6" stroke="#8cdc8e" stroke-width="0.9" stroke-opacity="0.75"/><line x1="110.7" y1="250.6" x2="110.7" y2="256.6" stroke="#8cdc8e" stroke-width="0.9" stroke-opacity="0.75"/><line x1="112.9" y1="250.6" x2="112.9" y2="256.6" stroke="#8cdc8e" stroke-width="0.9" stroke-opacity="0.75"/><line x1="115.1" y1="250.6" x2="115.1" y2="256.6" stroke="#8cdc8e" stroke-width="0.9" stroke-opacity="0.75"/><line x1="117.3" y1="250.6" x2="117.3" y2="256.6" stroke="#8cdc8e" stroke-width="0.9" stroke-opacity="0.75"/><line x1="119.5" y1="250.6" x2="119.5" y2="256.6" stroke="#8cdc8e" stroke-width="0.9" stroke-opacity="0.75"/><line x1="121.7" y1="250.6" x2="121.7" y2="256.6" stroke="#8cdc8e" stroke-width="0.9" stroke-opacity="0.75"/><path d="M25.1,232.2H35.0V235.0H52.0V237.0H57.0V240.7H71.2V248.4H97.0V251.0H101.3V263.2H113.0V274.9H119.2" fill="none" stroke="#e89e28" stroke-width="2.2" stroke-linejoin="miter" stroke-linecap="butt"/><line x1="74.0" y1="245.4" x2="74.0" y2="251.4" stroke="#e89e28" stroke-width="1.1" stroke-opacity="1"/><line x1="79.0" y1="245.4" x2="79.0" y2="251.4" stroke="#e89e28" stroke-width="1.1" stroke-opacity="1"/><line x1="85.0" y1="245.4" x2="85.0" y2="251.4" stroke="#e89e28" stroke-width="1.1" stroke-opacity="1"/><line x1="109.0" y1="260.2" x2="109.0" y2="266.2" stroke="#e89e28" stroke-width="1.1" stroke-opacity="1"/><line x1="119.0" y1="271.9" x2="119.0" y2="277.9" stroke="#e89e28" stroke-width="1.1" stroke-opacity="1"/><path d="M25.1,232.2H122.0" fill="none" stroke="#6494b8" stroke-width="2.2" stroke-linejoin="miter" stroke-linecap="butt"/><line x1="58.0" y1="229.2" x2="58.0" y2="235.2" stroke="#6494b8" stroke-width="1.1" stroke-opacity="1"/><line x1="71.0" y1="229.2" x2="71.0" y2="235.2" stroke="#6494b8" stroke-width="1.1" stroke-opacity="1"/><line x1="100.0" y1="229.2" x2="100.0" y2="235.2" stroke="#6494b8" stroke-width="1.1" stroke-opacity="1"/><line x1="108.0" y1="229.2" x2="108.0" y2="235.2" stroke="#6494b8" stroke-width="1.1" stroke-opacity="1"/><line x1="111.0" y1="229.2" x2="111.0" y2="235.2" stroke="#6494b8" stroke-width="1.1" stroke-opacity="1"/><line x1="114.0" y1="229.2" x2="114.0" y2="235.2" stroke="#6494b8" stroke-width="1.1" stroke-opacity="1"/><line x1="118.0" y1="229.2" x2="118.0" y2="235.2" stroke="#6494b8" stroke-width="1.1" stroke-opacity="1"/><line x1="121.0" y1="229.2" x2="121.0" y2="235.2" stroke="#6494b8" stroke-width="1.1" stroke-opacity="1"/><path d="M25.1,232.2H52.0V243.1H71.2V255.8H83.5V268.0H93.9V280.2H97.4V293.0H121.0" fill="none" stroke="#d41e22" stroke-width="2.2" stroke-linejoin="miter" stroke-linecap="butt"/><line x1="103.5" y1="290.0" x2="103.5" y2="296.0" stroke="#d41e22" stroke-width="1.1" stroke-opacity="1"/><line x1="110.5" y1="290.0" x2="110.5" y2="296.0" stroke="#d41e22" stroke-width="1.1" stroke-opacity="1"/><line x1="120.0" y1="290.0" x2="120.0" y2="296.0" stroke="#d41e22" stroke-width="1.1" stroke-opacity="1"/></g>
<g><rect x="226.00" y="227.78" width="146.07" height="119.45" fill="none" stroke="#2a2a2a" stroke-width="1.35"/><line x1="221.00" y1="342.80" x2="226.00" y2="342.80" stroke="#333" stroke-width="1"/><text x="216.50" y="346.10" font-size="10" text-anchor="end" fill="#000" class="t">0.0</text><line x1="221.00" y1="320.68" x2="226.00" y2="320.68" stroke="#333" stroke-width="1"/><text x="216.50" y="323.98" font-size="10" text-anchor="end" fill="#000" class="t">0.2</text><line x1="221.00" y1="298.56" x2="226.00" y2="298.56" stroke="#333" stroke-width="1"/><text x="216.50" y="301.86" font-size="10" text-anchor="end" fill="#000" class="t">0.4</text><line x1="221.00" y1="276.44" x2="226.00" y2="276.44" stroke="#333" stroke-width="1"/><text x="216.50" y="279.74" font-size="10" text-anchor="end" fill="#000" class="t">0.6</text><line x1="221.00" y1="254.32" x2="226.00" y2="254.32" stroke="#333" stroke-width="1"/><text x="216.50" y="257.62" font-size="10" text-anchor="end" fill="#000" class="t">0.8</text><line x1="221.00" y1="232.20" x2="226.00" y2="232.20" stroke="#333" stroke-width="1"/><text x="216.50" y="235.50" font-size="10" text-anchor="end" fill="#000" class="t">1.0</text><line x1="226.00" y1="347.22" x2="226.00" y2="351.82" stroke="#555" stroke-width="1"/><text x="225.80" y="367.42" font-size="10.1" text-anchor="middle" fill="#000" class="t">0</text><line x1="258.46" y1="347.22" x2="258.46" y2="351.82" stroke="#555" stroke-width="1"/><text x="258.26" y="367.42" font-size="10.1" text-anchor="middle" fill="#000" class="t">2</text><line x1="290.92" y1="347.22" x2="290.92" y2="351.82" stroke="#555" stroke-width="1"/><text x="290.72" y="367.42" font-size="10.1" text-anchor="middle" fill="#000" class="t">4</text><line x1="323.38" y1="347.22" x2="323.38" y2="351.82" stroke="#555" stroke-width="1"/><text x="323.18" y="367.42" font-size="10.1" text-anchor="middle" fill="#000" class="t">6</text><line x1="355.84" y1="347.22" x2="355.84" y2="351.82" stroke="#555" stroke-width="1"/><text x="355.64" y="367.42" font-size="10.1" text-anchor="middle" fill="#000" class="t">8</text><text x="298.75" y="219.90" font-size="10.8" text-anchor="middle" fill="#000" class="t">DSS (<tspan font-style="italic">n</tspan>=131)</text><text x="236.00" y="334.70" font-size="10.5" fill="#000" class="t">LR <tspan font-style="italic">P</tspan><tspan dx="0.9">-value: 0.0776</tspan></text><text x="341.80" y="240.30" font-size="7.2" fill="#7896bc" transform="translate(341.80,0) scale(0.95,1) translate(-341.80,0)">POLE</text><text x="341.80" y="248.70" font-size="7.2" fill="#eeaa30" transform="translate(341.80,0) scale(0.95,1) translate(-341.80,0)">MSI</text><text x="341.80" y="258.50" font-size="7.2" fill="#90dca0" transform="translate(341.80,0) scale(0.95,1) translate(-341.80,0)">CNLOW</text><text x="341.80" y="266.30" font-size="7.2" fill="#d02436" transform="translate(341.80,0) scale(0.95,1) translate(-341.80,0)">CNHigh</text><path d="M226.0,232.2H252.5V235.5H256.0V238.5H271.4V240.5H290.0V246.0H291.5V249.1H323.7" fill="none" stroke="#8cdc8e" stroke-width="2.5" stroke-linejoin="miter" stroke-linecap="butt"/><line x1="260.0" y1="235.5" x2="260.0" y2="241.5" stroke="#8cdc8e" stroke-width="0.9" stroke-opacity="0.75"/><line x1="264.0" y1="235.5" x2="264.0" y2="241.5" stroke="#8cdc8e" stroke-width="0.9" stroke-opacity="0.75"/><line x1="268.0" y1="235.5" x2="268.0" y2="241.5" stroke="#8cdc8e" stroke-width="0.9" stroke-opacity="0.75"/><line x1="274.0" y1="237.5" x2="274.0" y2="243.5" stroke="#8cdc8e" stroke-width="0.9" stroke-opacity="0.75"/><line x1="280.0" y1="237.5" x2="280.0" y2="243.5" stroke="#8cdc8e" stroke-width="0.9" stroke-opacity="0.75"/><line x1="300.0" y1="246.1" x2="300.0" y2="252.1" stroke="#8cdc8e" stroke-width="0.9" stroke-opacity="0.75"/><line x1="306.0" y1="246.1" x2="306.0" y2="252.1" stroke="#8cdc8e" stroke-width="0.9" stroke-opacity="0.75"/><line x1="312.0" y1="246.1" x2="312.0" y2="252.1" stroke="#8cdc8e" stroke-width="0.9" stroke-opacity="0.75"/><line x1="318.0" y1="246.1" x2="318.0" y2="252.1" stroke="#8cdc8e" stroke-width="0.9" stroke-opacity="0.75"/><line x1="322.0" y1="246.1" x2="322.0" y2="252.1" stroke="#8cdc8e" stroke-width="0.9" stroke-opacity="0.75"/><line x1="293.0" y1="246.1" x2="293.0" y2="252.1" stroke="#8cdc8e" stroke-width="0.9" stroke-opacity="0.75"/><line x1="295.2" y1="246.1" x2="295.2" y2="252.1" stroke="#8cdc8e" stroke-width="0.9" stroke-opacity="0.75"/><line x1="297.4" y1="246.1" x2="297.4" y2="252.1" stroke="#8cdc8e" stroke-width="0.9" stroke-opacity="0.75"/><line x1="299.6" y1="246.1" x2="299.6" y2="252.1" stroke="#8cdc8e" stroke-width="0.9" stroke-opacity="0.75"/><line x1="301.8" y1="246.1" x2="301.8" y2="252.1" stroke="#8cdc8e" stroke-width="0.9" stroke-opacity="0.75"/><line x1="304.0" y1="246.1" x2="304.0" y2="252.1" stroke="#8cdc8e" stroke-width="0.9" stroke-opacity="0.75"/><line x1="306.2" y1="246.1" x2="306.2" y2="252.1" stroke="#8cdc8e" stroke-width="0.9" stroke-opacity="0.75"/><line x1="308.4" y1="246.1" x2="308.4" y2="252.1" stroke="#8cdc8e" stroke-width="0.9" stroke-opacity="0.75"/><line x1="310.6" y1="246.1" x2="310.6" y2="252.1" stroke="#8cdc8e" stroke-width="0.9" stroke-opacity="0.75"/><line x1="312.8" y1="246.1" x2="312.8" y2="252.1" stroke="#8cdc8e" stroke-width="0.9" stroke-opacity="0.75"/><line x1="315.0" y1="246.1" x2="315.0" y2="252.1" stroke="#8cdc8e" stroke-width="0.9" stroke-opacity="0.75"/><line x1="317.2" y1="246.1" x2="317.2" y2="252.1" stroke="#8cdc8e" stroke-width="0.9" stroke-opacity="0.75"/><line x1="319.4" y1="246.1" x2="319.4" y2="252.1" stroke="#8cdc8e" stroke-width="0.9" stroke-opacity="0.75"/><line x1="321.6" y1="246.1" x2="321.6" y2="252.1" stroke="#8cdc8e" stroke-width="0.9" stroke-opacity="0.75"/><path d="M226.0,232.2H235.5V235.0H252.0V237.0H257.4V241.0H298.8V246.6H302.5V252.2H314.2V265.0H319.5" fill="none" stroke="#e89e28" stroke-width="2.2" stroke-linejoin="miter" stroke-linecap="butt"/><line x1="285.0" y1="238.0" x2="285.0" y2="244.0" stroke="#e89e28" stroke-width="1.1" stroke-opacity="1"/><line x1="303.0" y1="249.2" x2="303.0" y2="255.2" stroke="#e89e28" stroke-width="1.1" stroke-opacity="1"/><line x1="310.0" y1="249.2" x2="310.0" y2="255.2" stroke="#e89e28" stroke-width="1.1" stroke-opacity="1"/><line x1="319.0" y1="262.0" x2="319.0" y2="268.0" stroke="#e89e28" stroke-width="1.1" stroke-opacity="1"/><path d="M226.0,232.2H322.0" fill="none" stroke="#6494b8" stroke-width="2.2" stroke-linejoin="miter" stroke-linecap="butt"/><line x1="259.0" y1="229.2" x2="259.0" y2="235.2" stroke="#6494b8" stroke-width="1.1" stroke-opacity="1"/><line x1="271.0" y1="229.2" x2="271.0" y2="235.2" stroke="#6494b8" stroke-width="1.1" stroke-opacity="1"/><line x1="301.0" y1="229.2" x2="301.0" y2="235.2" stroke="#6494b8" stroke-width="1.1" stroke-opacity="1"/><line x1="309.0" y1="229.2" x2="309.0" y2="235.2" stroke="#6494b8" stroke-width="1.1" stroke-opacity="1"/><line x1="312.0" y1="229.2" x2="312.0" y2="235.2" stroke="#6494b8" stroke-width="1.1" stroke-opacity="1"/><line x1="315.0" y1="229.2" x2="315.0" y2="235.2" stroke="#6494b8" stroke-width="1.1" stroke-opacity="1"/><line x1="318.0" y1="229.2" x2="318.0" y2="235.2" stroke="#6494b8" stroke-width="1.1" stroke-opacity="1"/><line x1="322.0" y1="229.2" x2="322.0" y2="235.2" stroke="#6494b8" stroke-width="1.1" stroke-opacity="1"/><path d="M226.0,232.2H252.5V243.1H272.2V255.8H284.5V268.0H294.9V280.2H322.0" fill="none" stroke="#d41e22" stroke-width="2.2" stroke-linejoin="miter" stroke-linecap="butt"/><line x1="298.5" y1="277.2" x2="298.5" y2="283.2" stroke="#d41e22" stroke-width="1.1" stroke-opacity="1"/><line x1="304.5" y1="277.2" x2="304.5" y2="283.2" stroke="#d41e22" stroke-width="1.1" stroke-opacity="1"/><line x1="311.5" y1="277.2" x2="311.5" y2="283.2" stroke="#d41e22" stroke-width="1.1" stroke-opacity="1"/><line x1="321.0" y1="277.2" x2="321.0" y2="283.2" stroke="#d41e22" stroke-width="1.1" stroke-opacity="1"/></g>
<g><rect x="426.80" y="227.78" width="145.62" height="119.45" fill="none" stroke="#2a2a2a" stroke-width="1.35"/><line x1="421.80" y1="342.80" x2="426.80" y2="342.80" stroke="#333" stroke-width="1"/><text x="416.70" y="347.10" font-size="10" text-anchor="end" fill="#000" class="t">0.0</text><line x1="421.80" y1="320.68" x2="426.80" y2="320.68" stroke="#333" stroke-width="1"/><text x="416.70" y="324.98" font-size="10" text-anchor="end" fill="#000" class="t">0.2</text><line x1="421.80" y1="298.56" x2="426.80" y2="298.56" stroke="#333" stroke-width="1"/><text x="416.70" y="302.86" font-size="10" text-anchor="end" fill="#000" class="t">0.4</text><line x1="421.80" y1="276.44" x2="426.80" y2="276.44" stroke="#333" stroke-width="1"/><text x="416.70" y="280.74" font-size="10" text-anchor="end" fill="#000" class="t">0.6</text><line x1="421.80" y1="254.32" x2="426.80" y2="254.32" stroke="#333" stroke-width="1"/><text x="416.70" y="258.62" font-size="10" text-anchor="end" fill="#000" class="t">0.8</text><line x1="421.80" y1="232.20" x2="426.80" y2="232.20" stroke="#333" stroke-width="1"/><text x="416.70" y="236.50" font-size="10" text-anchor="end" fill="#000" class="t">1.0</text><line x1="426.80" y1="347.22" x2="426.80" y2="351.82" stroke="#555" stroke-width="1"/><text x="428.00" y="367.42" font-size="10.1" text-anchor="middle" fill="#000" class="t">0</text><line x1="459.16" y1="347.22" x2="459.16" y2="351.82" stroke="#555" stroke-width="1"/><text x="460.36" y="367.42" font-size="10.1" text-anchor="middle" fill="#000" class="t">2</text><line x1="491.52" y1="347.22" x2="491.52" y2="351.82" stroke="#555" stroke-width="1"/><text x="492.72" y="367.42" font-size="10.1" text-anchor="middle" fill="#000" class="t">4</text><line x1="523.88" y1="347.22" x2="523.88" y2="351.82" stroke="#555" stroke-width="1"/><text x="525.08" y="367.42" font-size="10.1" text-anchor="middle" fill="#000" class="t">6</text><line x1="556.24" y1="347.22" x2="556.24" y2="351.82" stroke="#555" stroke-width="1"/><text x="557.44" y="367.42" font-size="10.1" text-anchor="middle" fill="#000" class="t">8</text><text x="499.30" y="219.90" font-size="10.8" text-anchor="middle" fill="#000" class="t">RFS (<tspan font-style="italic">n</tspan>=125)</text><text x="435.30" y="334.70" font-size="10.5" fill="#000" class="t">LR <tspan font-style="italic">P</tspan><tspan dx="0.9">-value: 0.002</tspan></text><text x="541.80" y="239.20" font-size="7.2" fill="#7896bc" transform="translate(541.80,0) scale(0.95,1) translate(-541.80,0)">POLE</text><text x="541.80" y="247.60" font-size="7.2" fill="#eeaa30" transform="translate(541.80,0) scale(0.95,1) translate(-541.80,0)">MSI</text><text x="541.80" y="257.40" font-size="7.2" fill="#90dca0" transform="translate(541.80,0) scale(0.95,1) translate(-541.80,0)">CNLOW</text><text x="541.80" y="265.20" font-size="7.2" fill="#d02436" transform="translate(541.80,0) scale(0.95,1) translate(-541.80,0)">CNHigh</text><path d="M426.8,232.2H439.0V234.5H441.0V237.0H446.0V239.0H453.0V243.5H463.0V245.5H470.0V247.0H476.0V250.0H482.0V252.5H488.0V255.3H524.0" fill="none" stroke="#8cdc8e" stroke-width="2.5" stroke-linejoin="miter" stroke-linecap="butt"/><line x1="450.0" y1="236.0" x2="450.0" y2="242.0" stroke="#8cdc8e" stroke-width="0.9" stroke-opacity="0.75"/><line x1="458.0" y1="240.5" x2="458.0" y2="246.5" stroke="#8cdc8e" stroke-width="0.9" stroke-opacity="0.75"/><line x1="466.0" y1="242.5" x2="466.0" y2="248.5" stroke="#8cdc8e" stroke-width="0.9" stroke-opacity="0.75"/><line x1="495.0" y1="252.3" x2="495.0" y2="258.3" stroke="#8cdc8e" stroke-width="0.9" stroke-opacity="0.75"/><line x1="505.0" y1="252.3" x2="505.0" y2="258.3" stroke="#8cdc8e" stroke-width="0.9" stroke-opacity="0.75"/><line x1="512.0" y1="252.3" x2="512.0" y2="258.3" stroke="#8cdc8e" stroke-width="0.9" stroke-opacity="0.75"/><line x1="518.0" y1="252.3" x2="518.0" y2="258.3" stroke="#8cdc8e" stroke-width="0.9" stroke-opacity="0.75"/><line x1="523.0" y1="252.3" x2="523.0" y2="258.3" stroke="#8cdc8e" stroke-width="0.9" stroke-opacity="0.75"/><line x1="489.5" y1="252.3" x2="489.5" y2="258.3" stroke="#8cdc8e" stroke-width="0.9" stroke-opacity="0.75"/><line x1="491.7" y1="252.3" x2="491.7" y2="258.3" stroke="#8cdc8e" stroke-width="0.9" stroke-opacity="0.75"/><line x1="493.9" y1="252.3" x2="493.9" y2="258.3" stroke="#8cdc8e" stroke-width="0.9" stroke-opacity="0.75"/><line x1="496.1" y1="252.3" x2="496.1" y2="258.3" stroke="#8cdc8e" stroke-width="0.9" stroke-opacity="0.75"/><line x1="498.3" y1="252.3" x2="498.3" y2="258.3" stroke="#8cdc8e" stroke-width="0.9" stroke-opacity="0.75"/><line x1="500.5" y1="252.3" x2="500.5" y2="258.3" stroke="#8cdc8e" stroke-width="0.9" stroke-opacity="0.75"/><line x1="502.7" y1="252.3" x2="502.7" y2="258.3" stroke="#8cdc8e" stroke-width="0.9" stroke-opacity="0.75"/><line x1="504.9" y1="252.3" x2="504.9" y2="258.3" stroke="#8cdc8e" stroke-width="0.9" stroke-opacity="0.75"/><line x1="507.1" y1="252.3" x2="507.1" y2="258.3" stroke="#8cdc8e" stroke-width="0.9" stroke-opacity="0.75"/><line x1="509.3" y1="252.3" x2="509.3" y2="258.3" stroke="#8cdc8e" stroke-width="0.9" stroke-opacity="0.75"/><line x1="511.5" y1="252.3" x2="511.5" y2="258.3" stroke="#8cdc8e" stroke-width="0.9" stroke-opacity="0.75"/><line x1="513.7" y1="252.3" x2="513.7" y2="258.3" stroke="#8cdc8e" stroke-width="0.9" stroke-opacity="0.75"/><line x1="515.9" y1="252.3" x2="515.9" y2="258.3" stroke="#8cdc8e" stroke-width="0.9" stroke-opacity="0.75"/><line x1="518.1" y1="252.3" x2="518.1" y2="258.3" stroke="#8cdc8e" stroke-width="0.9" stroke-opacity="0.75"/><line x1="520.3" y1="252.3" x2="520.3" y2="258.3" stroke="#8cdc8e" stroke-width="0.9" stroke-opacity="0.75"/><line x1="522.5" y1="252.3" x2="522.5" y2="258.3" stroke="#8cdc8e" stroke-width="0.9" stroke-opacity="0.75"/><path d="M426.8,232.2H432.0V233.8H440.0V235.5H446.0V240.0H456.0V243.0H462.0V245.0H464.5V248.0H467.0V251.8H520.5" fill="none" stroke="#e89e28" stroke-width="2.2" stroke-linejoin="miter" stroke-linecap="butt"/><line x1="474.0" y1="248.8" x2="474.0" y2="254.8" stroke="#e89e28" stroke-width="1.1" stroke-opacity="1"/><line x1="482.0" y1="248.8" x2="482.0" y2="254.8" stroke="#e89e28" stroke-width="1.1" stroke-opacity="1"/><line x1="490.0" y1="248.8" x2="490.0" y2="254.8" stroke="#e89e28" stroke-width="1.1" stroke-opacity="1"/><line x1="500.0" y1="248.8" x2="500.0" y2="254.8" stroke="#e89e28" stroke-width="1.1" stroke-opacity="1"/><line x1="506.0" y1="248.8" x2="506.0" y2="254.8" stroke="#e89e28" stroke-width="1.1" stroke-opacity="1"/><line x1="512.0" y1="248.8" x2="512.0" y2="254.8" stroke="#e89e28" stroke-width="1.1" stroke-opacity="1"/><line x1="518.0" y1="248.8" x2="518.0" y2="254.8" stroke="#e89e28" stroke-width="1.1" stroke-opacity="1"/><line x1="520.0" y1="248.8" x2="520.0" y2="254.8" stroke="#e89e28" stroke-width="1.1" stroke-opacity="1"/><line x1="490.0" y1="248.8" x2="490.0" y2="254.8" stroke="#e89e28" stroke-width="1.1" stroke-opacity="1"/><line x1="492.6" y1="248.8" x2="492.6" y2="254.8" stroke="#e89e28" stroke-width="1.1" stroke-opacity="1"/><line x1="495.2" y1="248.8" x2="495.2" y2="254.8" stroke="#e89e28" stroke-width="1.1" stroke-opacity="1"/><line x1="497.8" y1="248.8" x2="497.8" y2="254.8" stroke="#e89e28" stroke-width="1.1" stroke-opacity="1"/><line x1="500.4" y1="248.8" x2="500.4" y2="254.8" stroke="#e89e28" stroke-width="1.1" stroke-opacity="1"/><line x1="503.0" y1="248.8" x2="503.0" y2="254.8" stroke="#e89e28" stroke-width="1.1" stroke-opacity="1"/><line x1="505.6" y1="248.8" x2="505.6" y2="254.8" stroke="#e89e28" stroke-width="1.1" stroke-opacity="1"/><line x1="508.2" y1="248.8" x2="508.2" y2="254.8" stroke="#e89e28" stroke-width="1.1" stroke-opacity="1"/><line x1="510.8" y1="248.8" x2="510.8" y2="254.8" stroke="#e89e28" stroke-width="1.1" stroke-opacity="1"/><line x1="513.4" y1="248.8" x2="513.4" y2="254.8" stroke="#e89e28" stroke-width="1.1" stroke-opacity="1"/><line x1="516.0" y1="248.8" x2="516.0" y2="254.8" stroke="#e89e28" stroke-width="1.1" stroke-opacity="1"/><line x1="518.6" y1="248.8" x2="518.6" y2="254.8" stroke="#e89e28" stroke-width="1.1" stroke-opacity="1"/><path d="M426.8,232.2H523.0" fill="none" stroke="#6494b8" stroke-width="2.2" stroke-linejoin="miter" stroke-linecap="butt"/><line x1="459.0" y1="229.2" x2="459.0" y2="235.2" stroke="#6494b8" stroke-width="1.1" stroke-opacity="1"/><line x1="471.0" y1="229.2" x2="471.0" y2="235.2" stroke="#6494b8" stroke-width="1.1" stroke-opacity="1"/><line x1="501.0" y1="229.2" x2="501.0" y2="235.2" stroke="#6494b8" stroke-width="1.1" stroke-opacity="1"/><line x1="509.0" y1="229.2" x2="509.0" y2="235.2" stroke="#6494b8" stroke-width="1.1" stroke-opacity="1"/><line x1="513.0" y1="229.2" x2="513.0" y2="235.2" stroke="#6494b8" stroke-width="1.1" stroke-opacity="1"/><line x1="517.0" y1="229.2" x2="517.0" y2="235.2" stroke="#6494b8" stroke-width="1.1" stroke-opacity="1"/><line x1="522.0" y1="229.2" x2="522.0" y2="235.2" stroke="#6494b8" stroke-width="1.1" stroke-opacity="1"/><path d="M426.8,232.2H438.9V243.1H443.6V254.0H454.0V265.4H458.4V287.4H472.7V301.4H523.0" fill="none" stroke="#d41e22" stroke-width="2.2" stroke-linejoin="miter" stroke-linecap="butt"/><line x1="505.5" y1="298.4" x2="505.5" y2="304.4" stroke="#d41e22" stroke-width="1.1" stroke-opacity="1"/><line x1="512.0" y1="298.4" x2="512.0" y2="304.4" stroke="#d41e22" stroke-width="1.1" stroke-opacity="1"/><line x1="522.0" y1="298.4" x2="522.0" y2="304.4" stroke="#d41e22" stroke-width="1.1" stroke-opacity="1"/></g>
<g><rect x="25.05" y="427.98" width="146.43" height="119.45" fill="none" stroke="#2a2a2a" stroke-width="1.35"/><line x1="20.05" y1="543.00" x2="25.05" y2="543.00" stroke="#333" stroke-width="1"/><text x="14.55" y="546.30" font-size="10" text-anchor="end" fill="#000" class="t">0.0</text><line x1="20.05" y1="520.88" x2="25.05" y2="520.88" stroke="#333" stroke-width="1"/><text x="14.55" y="524.18" font-size="10" text-anchor="end" fill="#000" class="t">0.2</text><line x1="20.05" y1="498.76" x2="25.05" y2="498.76" stroke="#333" stroke-width="1"/><text x="14.55" y="502.06" font-size="10" text-anchor="end" fill="#000" class="t">0.4</text><line x1="20.05" y1="476.64" x2="25.05" y2="476.64" stroke="#333" stroke-width="1"/><text x="14.55" y="479.94" font-size="10" text-anchor="end" fill="#000" class="t">0.6</text><line x1="20.05" y1="454.52" x2="25.05" y2="454.52" stroke="#333" stroke-width="1"/><text x="14.55" y="457.82" font-size="10" text-anchor="end" fill="#000" class="t">0.8</text><line x1="20.05" y1="432.40" x2="25.05" y2="432.40" stroke="#333" stroke-width="1"/><text x="14.55" y="435.70" font-size="10" text-anchor="end" fill="#000" class="t">1.0</text><line x1="25.05" y1="547.42" x2="25.05" y2="552.02" stroke="#555" stroke-width="1"/><text x="25.55" y="567.62" font-size="10.1" text-anchor="middle" fill="#000" class="t">0</text><line x1="57.59" y1="547.42" x2="57.59" y2="552.02" stroke="#555" stroke-width="1"/><text x="58.09" y="567.62" font-size="10.1" text-anchor="middle" fill="#000" class="t">2</text><line x1="90.13" y1="547.42" x2="90.13" y2="552.02" stroke="#555" stroke-width="1"/><text x="90.63" y="567.62" font-size="10.1" text-anchor="middle" fill="#000" class="t">4</text><line x1="122.67" y1="547.42" x2="122.67" y2="552.02" stroke="#555" stroke-width="1"/><text x="123.17" y="567.62" font-size="10.1" text-anchor="middle" fill="#000" class="t">6</text><line x1="155.21" y1="547.42" x2="155.21" y2="552.02" stroke="#555" stroke-width="1"/><text x="155.71" y="567.62" font-size="10.1" text-anchor="middle" fill="#000" class="t">8</text><text x="97.60" y="409.80" font-size="10.4" text-anchor="middle" fill="#000" class="t">3. MMR/POLE mut/fish (threshold 2)</text><text x="97.65" y="422.20" font-size="10.8" text-anchor="middle" fill="#000" class="t">OS (<tspan font-style="italic">n</tspan>=133)</text><text x="35.70" y="535.00" font-size="10.5" fill="#000" class="t">LR <tspan font-style="italic">P</tspan><tspan dx="0.9">-value: 0.1129</tspan></text><text x="142.00" y="439.00" font-size="7.2" fill="#7896bc" transform="translate(142.00,0) scale(0.95,1) translate(-142.00,0)">POLE</text><text x="142.00" y="447.40" font-size="7.2" fill="#eeaa30" transform="translate(142.00,0) scale(0.95,1) translate(-142.00,0)">MSI</text><text x="142.00" y="457.20" font-size="7.2" fill="#90dca0" transform="translate(142.00,0) scale(0.95,1) translate(-142.00,0)">CNLOW</text><text x="142.00" y="465.00" font-size="7.2" fill="#d02436" transform="translate(142.00,0) scale(0.95,1) translate(-142.00,0)">CNHigh</text><path d="M25.1,432.4H52.0V436.5H56.0V439.0H63.0V440.5H70.0V442.0H76.0V443.5H82.0V446.0H88.0V449.0H92.0V452.0H96.0V455.0H99.4V457.2H122.7" fill="none" stroke="#8cdc8e" stroke-width="2.5" stroke-linejoin="miter" stroke-linecap="butt"/><line x1="60.0" y1="436.0" x2="60.0" y2="442.0" stroke="#8cdc8e" stroke-width="0.9" stroke-opacity="0.75"/><line x1="66.0" y1="437.5" x2="66.0" y2="443.5" stroke="#8cdc8e" stroke-width="0.9" stroke-opacity="0.75"/><line x1="73.0" y1="439.0" x2="73.0" y2="445.0" stroke="#8cdc8e" stroke-width="0.9" stroke-opacity="0.75"/><line x1="79.0" y1="440.5" x2="79.0" y2="446.5" stroke="#8cdc8e" stroke-width="0.9" stroke-opacity="0.75"/><line x1="85.0" y1="443.0" x2="85.0" y2="449.0" stroke="#8cdc8e" stroke-width="0.9" stroke-opacity="0.75"/><line x1="104.0" y1="454.2" x2="104.0" y2="460.2" stroke="#8cdc8e" stroke-width="0.9" stroke-opacity="0.75"/><line x1="108.0" y1="454.2" x2="108.0" y2="460.2" stroke="#8cdc8e" stroke-width="0.9" stroke-opacity="0.75"/><line x1="112.0" y1="454.2" x2="112.0" y2="460.2" stroke="#8cdc8e" stroke-width="0.9" stroke-opacity="0.75"/><line x1="116.0" y1="454.2" x2="116.0" y2="460.2" stroke="#8cdc8e" stroke-width="0.9" stroke-opacity="0.75"/><line x1="121.0" y1="454.2" x2="121.0" y2="460.2" stroke="#8cdc8e" stroke-width="0.9" stroke-opacity="0.75"/><line x1="100.9" y1="454.2" x2="100.9" y2="460.2" stroke="#8cdc8e" stroke-width="0.9" stroke-opacity="0.75"/><line x1="103.1" y1="454.2" x2="103.1" y2="460.2" stroke="#8cdc8e" stroke-width="0.9" stroke-opacity="0.75"/><line x1="105.3" y1="454.2" x2="105.3" y2="460.2" stroke="#8cdc8e" stroke-width="0.9" stroke-opacity="0.75"/><line x1="107.5" y1="454.2" x2="107.5" y2="460.2" stroke="#8cdc8e" stroke-width="0.9" stroke-opacity="0.75"/><line x1="109.7" y1="454.2" x2="109.7" y2="460.2" stroke="#8cdc8e" stroke-width="0.9" stroke-opacity="0.75"/><line x1="111.9" y1="454.2" x2="111.9" y2="460.2" stroke="#8cdc8e" stroke-width="0.9" stroke-opacity="0.75"/><line x1="114.1" y1="454.2" x2="114.1" y2="460.2" stroke="#8cdc8e" stroke-width="0.9" stroke-opacity="0.75"/><line x1="116.3" y1="454.2" x2="116.3" y2="460.2" stroke="#8cdc8e" stroke-width="0.9" stroke-opacity="0.75"/><line x1="118.5" y1="454.2" x2="118.5" y2="460.2" stroke="#8cdc8e" stroke-width="0.9" stroke-opacity="0.75"/><line x1="120.7" y1="454.2" x2="120.7" y2="460.2" stroke="#8cdc8e" stroke-width="0.9" stroke-opacity="0.75"/><path d="M25.1,432.4H35.5V435.3H52.0V437.0H58.0V442.5H70.4V449.0H97.6V453.8H101.9V463.6H113.6V475.2H119.2" fill="none" stroke="#e89e28" stroke-width="2.2" stroke-linejoin="miter" stroke-linecap="butt"/><line x1="60.0" y1="439.5" x2="60.0" y2="445.5" stroke="#e89e28" stroke-width="1.1" stroke-opacity="1"/><line x1="64.0" y1="439.5" x2="64.0" y2="445.5" stroke="#e89e28" stroke-width="1.1" stroke-opacity="1"/><line x1="76.0" y1="446.0" x2="76.0" y2="452.0" stroke="#e89e28" stroke-width="1.1" stroke-opacity="1"/><line x1="84.0" y1="446.0" x2="84.0" y2="452.0" stroke="#e89e28" stroke-width="1.1" stroke-opacity="1"/><line x1="108.0" y1="460.6" x2="108.0" y2="466.6" stroke="#e89e28" stroke-width="1.1" stroke-opacity="1"/><line x1="119.0" y1="472.2" x2="119.0" y2="478.2" stroke="#e89e28" stroke-width="1.1" stroke-opacity="1"/><path d="M25.1,432.4H122.0" fill="none" stroke="#6494b8" stroke-width="2.2" stroke-linejoin="miter" stroke-linecap="butt"/><line x1="58.0" y1="429.4" x2="58.0" y2="435.4" stroke="#6494b8" stroke-width="1.1" stroke-opacity="1"/><line x1="71.0" y1="429.4" x2="71.0" y2="435.4" stroke="#6494b8" stroke-width="1.1" stroke-opacity="1"/><line x1="100.0" y1="429.4" x2="100.0" y2="435.4" stroke="#6494b8" stroke-width="1.1" stroke-opacity="1"/><line x1="108.0" y1="429.4" x2="108.0" y2="435.4" stroke="#6494b8" stroke-width="1.1" stroke-opacity="1"/><line x1="111.0" y1="429.4" x2="111.0" y2="435.4" stroke="#6494b8" stroke-width="1.1" stroke-opacity="1"/><line x1="114.0" y1="429.4" x2="114.0" y2="435.4" stroke="#6494b8" stroke-width="1.1" stroke-opacity="1"/><line x1="118.0" y1="429.4" x2="118.0" y2="435.4" stroke="#6494b8" stroke-width="1.1" stroke-opacity="1"/><line x1="121.0" y1="429.4" x2="121.0" y2="435.4" stroke="#6494b8" stroke-width="1.1" stroke-opacity="1"/><path d="M25.1,432.4H52.0V448.1H71.2V467.3H93.9V486.0H121.0" fill="none" stroke="#d41e22" stroke-width="2.2" stroke-linejoin="miter" stroke-linecap="butt"/><line x1="103.5" y1="483.0" x2="103.5" y2="489.0" stroke="#d41e22" stroke-width="1.1" stroke-opacity="1"/><line x1="120.0" y1="483.0" x2="120.0" y2="489.0" stroke="#d41e22" stroke-width="1.1" stroke-opacity="1"/></g>
<g><rect x="226.00" y="427.98" width="146.07" height="119.45" fill="none" stroke="#2a2a2a" stroke-width="1.35"/><line x1="221.00" y1="543.00" x2="226.00" y2="543.00" stroke="#333" stroke-width="1"/><text x="216.50" y="546.30" font-size="10" text-anchor="end" fill="#000" class="t">0.0</text><line x1="221.00" y1="520.88" x2="226.00" y2="520.88" stroke="#333" stroke-width="1"/><text x="216.50" y="524.18" font-size="10" text-anchor="end" fill="#000" class="t">0.2</text><line x1="221.00" y1="498.76" x2="226.00" y2="498.76" stroke="#333" stroke-width="1"/><text x="216.50" y="502.06" font-size="10" text-anchor="end" fill="#000" class="t">0.4</text><line x1="221.00" y1="476.64" x2="226.00" y2="476.64" stroke="#333" stroke-width="1"/><text x="216.50" y="479.94" font-size="10" text-anchor="end" fill="#000" class="t">0.6</text><line x1="221.00" y1="454.52" x2="226.00" y2="454.52" stroke="#333" stroke-width="1"/><text x="216.50" y="457.82" font-size="10" text-anchor="end" fill="#000" class="t">0.8</text><line x1="221.00" y1="432.40" x2="226.00" y2="432.40" stroke="#333" stroke-width="1"/><text x="216.50" y="435.70" font-size="10" text-anchor="end" fill="#000" class="t">1.0</text><line x1="226.00" y1="547.42" x2="226.00" y2="552.02" stroke="#555" stroke-width="1"/><text x="225.80" y="567.62" font-size="10.1" text-anchor="middle" fill="#000" class="t">0</text><line x1="258.46" y1="547.42" x2="258.46" y2="552.02" stroke="#555" stroke-width="1"/><text x="258.26" y="567.62" font-size="10.1" text-anchor="middle" fill="#000" class="t">2</text><line x1="290.92" y1="547.42" x2="290.92" y2="552.02" stroke="#555" stroke-width="1"/><text x="290.72" y="567.62" font-size="10.1" text-anchor="middle" fill="#000" class="t">4</text><line x1="323.38" y1="547.42" x2="323.38" y2="552.02" stroke="#555" stroke-width="1"/><text x="323.18" y="567.62" font-size="10.1" text-anchor="middle" fill="#000" class="t">6</text><line x1="355.84" y1="547.42" x2="355.84" y2="552.02" stroke="#555" stroke-width="1"/><text x="355.64" y="567.62" font-size="10.1" text-anchor="middle" fill="#000" class="t">8</text><text x="299.00" y="421.90" font-size="10.8" text-anchor="middle" fill="#000" class="t">DSS (<tspan font-style="italic">n</tspan>=131)</text><text x="233.00" y="535.00" font-size="10.5" fill="#000" class="t">LR <tspan font-style="italic">P</tspan><tspan dx="0.9">-value: 0.0908</tspan></text><text x="341.80" y="440.20" font-size="7.2" fill="#7896bc" transform="translate(341.80,0) scale(0.95,1) translate(-341.80,0)">POLE</text><text x="341.80" y="448.60" font-size="7.2" fill="#eeaa30" transform="translate(341.80,0) scale(0.95,1) translate(-341.80,0)">MSI</text><text x="341.80" y="458.40" font-size="7.2" fill="#90dca0" transform="translate(341.80,0) scale(0.95,1) translate(-341.80,0)">CNLOW</text><text x="341.80" y="466.20" font-size="7.2" fill="#d02436" transform="translate(341.80,0) scale(0.95,1) translate(-341.80,0)">CNHigh</text><path d="M226.0,432.4H253.0V436.5H257.0V438.5H264.0V440.0H270.0V441.0H288.0V444.0H290.0V447.5H292.0V450.7H323.7" fill="none" stroke="#8cdc8e" stroke-width="2.5" stroke-linejoin="miter" stroke-linecap="butt"/><line x1="260.0" y1="435.5" x2="260.0" y2="441.5" stroke="#8cdc8e" stroke-width="0.9" stroke-opacity="0.75"/><line x1="266.0" y1="437.0" x2="266.0" y2="443.0" stroke="#8cdc8e" stroke-width="0.9" stroke-opacity="0.75"/><line x1="272.0" y1="438.0" x2="272.0" y2="444.0" stroke="#8cdc8e" stroke-width="0.9" stroke-opacity="0.75"/><line x1="278.0" y1="438.0" x2="278.0" y2="444.0" stroke="#8cdc8e" stroke-width="0.9" stroke-opacity="0.75"/><line x1="300.0" y1="447.7" x2="300.0" y2="453.7" stroke="#8cdc8e" stroke-width="0.9" stroke-opacity="0.75"/><line x1="306.0" y1="447.7" x2="306.0" y2="453.7" stroke="#8cdc8e" stroke-width="0.9" stroke-opacity="0.75"/><line x1="312.0" y1="447.7" x2="312.0" y2="453.7" stroke="#8cdc8e" stroke-width="0.9" stroke-opacity="0.75"/><line x1="318.0" y1="447.7" x2="318.0" y2="453.7" stroke="#8cdc8e" stroke-width="0.9" stroke-opacity="0.75"/><line x1="322.0" y1="447.7" x2="322.0" y2="453.7" stroke="#8cdc8e" stroke-width="0.9" stroke-opacity="0.75"/><line x1="293.5" y1="447.7" x2="293.5" y2="453.7" stroke="#8cdc8e" stroke-width="0.9" stroke-opacity="0.75"/><line x1="295.7" y1="447.7" x2="295.7" y2="453.7" stroke="#8cdc8e" stroke-width="0.9" stroke-opacity="0.75"/><line x1="297.9" y1="447.7" x2="297.9" y2="453.7" stroke="#8cdc8e" stroke-width="0.9" stroke-opacity="0.75"/><line x1="300.1" y1="447.7" x2="300.1" y2="453.7" stroke="#8cdc8e" stroke-width="0.9" stroke-opacity="0.75"/><line x1="302.3" y1="447.7" x2="302.3" y2="453.7" stroke="#8cdc8e" stroke-width="0.9" stroke-opacity="0.75"/><line x1="304.5" y1="447.7" x2="304.5" y2="453.7" stroke="#8cdc8e" stroke-width="0.9" stroke-opacity="0.75"/><line x1="306.7" y1="447.7" x2="306.7" y2="453.7" stroke="#8cdc8e" stroke-width="0.9" stroke-opacity="0.75"/><line x1="308.9" y1="447.7" x2="308.9" y2="453.7" stroke="#8cdc8e" stroke-width="0.9" stroke-opacity="0.75"/><line x1="311.1" y1="447.7" x2="311.1" y2="453.7" stroke="#8cdc8e" stroke-width="0.9" stroke-opacity="0.75"/><line x1="313.3" y1="447.7" x2="313.3" y2="453.7" stroke="#8cdc8e" stroke-width="0.9" stroke-opacity="0.75"/><line x1="315.5" y1="447.7" x2="315.5" y2="453.7" stroke="#8cdc8e" stroke-width="0.9" stroke-opacity="0.75"/><line x1="317.7" y1="447.7" x2="317.7" y2="453.7" stroke="#8cdc8e" stroke-width="0.9" stroke-opacity="0.75"/><line x1="319.9" y1="447.7" x2="319.9" y2="453.7" stroke="#8cdc8e" stroke-width="0.9" stroke-opacity="0.75"/><line x1="322.1" y1="447.7" x2="322.1" y2="453.7" stroke="#8cdc8e" stroke-width="0.9" stroke-opacity="0.75"/><path d="M226.0,432.4H235.6V435.0H252.2V437.0H259.2V441.2H298.8V446.4H302.5V452.5H314.8V464.8H319.5" fill="none" stroke="#e89e28" stroke-width="2.2" stroke-linejoin="miter" stroke-linecap="butt"/><line x1="285.0" y1="438.2" x2="285.0" y2="444.2" stroke="#e89e28" stroke-width="1.1" stroke-opacity="1"/><line x1="303.0" y1="449.5" x2="303.0" y2="455.5" stroke="#e89e28" stroke-width="1.1" stroke-opacity="1"/><line x1="310.0" y1="449.5" x2="310.0" y2="455.5" stroke="#e89e28" stroke-width="1.1" stroke-opacity="1"/><line x1="319.0" y1="461.8" x2="319.0" y2="467.8" stroke="#e89e28" stroke-width="1.1" stroke-opacity="1"/><path d="M226.0,432.4H322.0" fill="none" stroke="#6494b8" stroke-width="2.2" stroke-linejoin="miter" stroke-linecap="butt"/><line x1="259.0" y1="429.4" x2="259.0" y2="435.4" stroke="#6494b8" stroke-width="1.1" stroke-opacity="1"/><line x1="271.0" y1="429.4" x2="271.0" y2="435.4" stroke="#6494b8" stroke-width="1.1" stroke-opacity="1"/><line x1="301.0" y1="429.4" x2="301.0" y2="435.4" stroke="#6494b8" stroke-width="1.1" stroke-opacity="1"/><line x1="309.0" y1="429.4" x2="309.0" y2="435.4" stroke="#6494b8" stroke-width="1.1" stroke-opacity="1"/><line x1="312.0" y1="429.4" x2="312.0" y2="435.4" stroke="#6494b8" stroke-width="1.1" stroke-opacity="1"/><line x1="315.0" y1="429.4" x2="315.0" y2="435.4" stroke="#6494b8" stroke-width="1.1" stroke-opacity="1"/><line x1="318.0" y1="429.4" x2="318.0" y2="435.4" stroke="#6494b8" stroke-width="1.1" stroke-opacity="1"/><line x1="322.0" y1="429.4" x2="322.0" y2="435.4" stroke="#6494b8" stroke-width="1.1" stroke-opacity="1"/><path d="M226.0,432.4H252.5V448.1H272.2V467.3H294.0V486.0H322.0" fill="none" stroke="#d41e22" stroke-width="2.2" stroke-linejoin="miter" stroke-linecap="butt"/><line x1="304.5" y1="483.0" x2="304.5" y2="489.0" stroke="#d41e22" stroke-width="1.1" stroke-opacity="1"/><line x1="321.0" y1="483.0" x2="321.0" y2="489.0" stroke="#d41e22" stroke-width="1.1" stroke-opacity="1"/></g>
<g><rect x="426.80" y="427.98" width="145.62" height="119.45" fill="none" stroke="#2a2a2a" stroke-width="1.35"/><line x1="421.80" y1="543.00" x2="426.80" y2="543.00" stroke="#333" stroke-width="1"/><text x="416.70" y="547.30" font-size="10" text-anchor="end" fill="#000" class="t">0.0</text><line x1="421.80" y1="520.88" x2="426.80" y2="520.88" stroke="#333" stroke-width="1"/><text x="416.70" y="525.18" font-size="10" text-anchor="end" fill="#000" class="t">0.2</text><line x1="421.80" y1="498.76" x2="426.80" y2="498.76" stroke="#333" stroke-width="1"/><text x="416.70" y="503.06" font-size="10" text-anchor="end" fill="#000" class="t">0.4</text><line x1="421.80" y1="476.64" x2="426.80" y2="476.64" stroke="#333" stroke-width="1"/><text x="416.70" y="480.94" font-size="10" text-anchor="end" fill="#000" class="t">0.6</text><line x1="421.80" y1="454.52" x2="426.80" y2="454.52" stroke="#333" stroke-width="1"/><text x="416.70" y="458.82" font-size="10" text-anchor="end" fill="#000" class="t">0.8</text><line x1="421.80" y1="432.40" x2="426.80" y2="432.40" stroke="#333" stroke-width="1"/><text x="416.70" y="436.70" font-size="10" text-anchor="end" fill="#000" class="t">1.0</text><line x1="426.80" y1="547.42" x2="426.80" y2="552.02" stroke="#555" stroke-width="1"/><text x="428.00" y="567.62" font-size="10.1" text-anchor="middle" fill="#000" class="t">0</text><line x1="459.16" y1="547.42" x2="459.16" y2="552.02" stroke="#555" stroke-width="1"/><text x="460.36" y="567.62" font-size="10.1" text-anchor="middle" fill="#000" class="t">2</text><line x1="491.52" y1="547.42" x2="491.52" y2="552.02" stroke="#555" stroke-width="1"/><text x="492.72" y="567.62" font-size="10.1" text-anchor="middle" fill="#000" class="t">4</text><line x1="523.88" y1="547.42" x2="523.88" y2="552.02" stroke="#555" stroke-width="1"/><text x="525.08" y="567.62" font-size="10.1" text-anchor="middle" fill="#000" class="t">6</text><line x1="556.24" y1="547.42" x2="556.24" y2="552.02" stroke="#555" stroke-width="1"/><text x="557.44" y="567.62" font-size="10.1" text-anchor="middle" fill="#000" class="t">8</text><text x="499.10" y="421.90" font-size="10.8" text-anchor="middle" fill="#000" class="t">RFS (<tspan font-style="italic">n</tspan>=125)</text><text x="436.30" y="535.00" font-size="10.5" fill="#000" class="t">LR <tspan font-style="italic">P</tspan><tspan dx="0.9">-value: 0.0103</tspan></text><text x="543.20" y="439.20" font-size="7.2" fill="#7896bc" transform="translate(543.20,0) scale(0.95,1) translate(-543.20,0)">POLE</text><text x="543.20" y="447.60" font-size="7.2" fill="#eeaa30" transform="translate(543.20,0) scale(0.95,1) translate(-543.20,0)">MSI</text><text x="543.20" y="457.40" font-size="7.2" fill="#90dca0" transform="translate(543.20,0) scale(0.95,1) translate(-543.20,0)">CNLOW</text><text x="543.20" y="465.20" font-size="7.2" fill="#d02436" transform="translate(543.20,0) scale(0.95,1) translate(-543.20,0)">CNHigh</text><path d="M426.8,432.4H439.2V435.0H441.0V437.0H443.0V439.0H446.0V441.0H449.0V443.0H453.0V445.0H458.0V446.5H464.0V448.0H469.0V450.0H474.0V452.0H478.0V454.0H482.0V456.0H488.0V458.7H524.7" fill="none" stroke="#8cdc8e" stroke-width="2.5" stroke-linejoin="miter" stroke-linecap="butt"/><line x1="444.0" y1="436.0" x2="444.0" y2="442.0" stroke="#8cdc8e" stroke-width="0.9" stroke-opacity="0.75"/><line x1="450.0" y1="440.0" x2="450.0" y2="446.0" stroke="#8cdc8e" stroke-width="0.9" stroke-opacity="0.75"/><line x1="456.0" y1="442.0" x2="456.0" y2="448.0" stroke="#8cdc8e" stroke-width="0.9" stroke-opacity="0.75"/><line x1="462.0" y1="443.5" x2="462.0" y2="449.5" stroke="#8cdc8e" stroke-width="0.9" stroke-opacity="0.75"/><line x1="468.0" y1="445.0" x2="468.0" y2="451.0" stroke="#8cdc8e" stroke-width="0.9" stroke-opacity="0.75"/><line x1="495.0" y1="455.7" x2="495.0" y2="461.7" stroke="#8cdc8e" stroke-width="0.9" stroke-opacity="0.75"/><line x1="500.0" y1="455.7" x2="500.0" y2="461.7" stroke="#8cdc8e" stroke-width="0.9" stroke-opacity="0.75"/><line x1="505.0" y1="455.7" x2="505.0" y2="461.7" stroke="#8cdc8e" stroke-width="0.9" stroke-opacity="0.75"/><line x1="510.0" y1="455.7" x2="510.0" y2="461.7" stroke="#8cdc8e" stroke-width="0.9" stroke-opacity="0.75"/><line x1="515.0" y1="455.7" x2="515.0" y2="461.7" stroke="#8cdc8e" stroke-width="0.9" stroke-opacity="0.75"/><line x1="520.0" y1="455.7" x2="520.0" y2="461.7" stroke="#8cdc8e" stroke-width="0.9" stroke-opacity="0.75"/><line x1="523.0" y1="455.7" x2="523.0" y2="461.7" stroke="#8cdc8e" stroke-width="0.9" stroke-opacity="0.75"/><line x1="489.5" y1="455.7" x2="489.5" y2="461.7" stroke="#8cdc8e" stroke-width="0.9" stroke-opacity="0.75"/><line x1="491.7" y1="455.7" x2="491.7" y2="461.7" stroke="#8cdc8e" stroke-width="0.9" stroke-opacity="0.75"/><line x1="493.9" y1="455.7" x2="493.9" y2="461.7" stroke="#8cdc8e" stroke-width="0.9" stroke-opacity="0.75"/><line x1="496.1" y1="455.7" x2="496.1" y2="461.7" stroke="#8cdc8e" stroke-width="0.9" stroke-opacity="0.75"/><line x1="498.3" y1="455.7" x2="498.3" y2="461.7" stroke="#8cdc8e" stroke-width="0.9" stroke-opacity="0.75"/><line x1="500.5" y1="455.7" x2="500.5" y2="461.7" stroke="#8cdc8e" stroke-width="0.9" stroke-opacity="0.75"/><line x1="502.7" y1="455.7" x2="502.7" y2="461.7" stroke="#8cdc8e" stroke-width="0.9" stroke-opacity="0.75"/><line x1="504.9" y1="455.7" x2="504.9" y2="461.7" stroke="#8cdc8e" stroke-width="0.9" stroke-opacity="0.75"/><line x1="507.1" y1="455.7" x2="507.1" y2="461.7" stroke="#8cdc8e" stroke-width="0.9" stroke-opacity="0.75"/><line x1="509.3" y1="455.7" x2="509.3" y2="461.7" stroke="#8cdc8e" stroke-width="0.9" stroke-opacity="0.75"/><line x1="511.5" y1="455.7" x2="511.5" y2="461.7" stroke="#8cdc8e" stroke-width="0.9" stroke-opacity="0.75"/><line x1="513.7" y1="455.7" x2="513.7" y2="461.7" stroke="#8cdc8e" stroke-width="0.9" stroke-opacity="0.75"/><line x1="515.9" y1="455.7" x2="515.9" y2="461.7" stroke="#8cdc8e" stroke-width="0.9" stroke-opacity="0.75"/><line x1="518.1" y1="455.7" x2="518.1" y2="461.7" stroke="#8cdc8e" stroke-width="0.9" stroke-opacity="0.75"/><line x1="520.3" y1="455.7" x2="520.3" y2="461.7" stroke="#8cdc8e" stroke-width="0.9" stroke-opacity="0.75"/><line x1="522.5" y1="455.7" x2="522.5" y2="461.7" stroke="#8cdc8e" stroke-width="0.9" stroke-opacity="0.75"/><path d="M426.8,432.4H434.0V435.0H447.9V444.6H463.6V447.2H467.1V452.4H522.1" fill="none" stroke="#e89e28" stroke-width="2.2" stroke-linejoin="miter" stroke-linecap="butt"/><line x1="474.0" y1="449.4" x2="474.0" y2="455.4" stroke="#e89e28" stroke-width="1.1" stroke-opacity="1"/><line x1="482.0" y1="449.4" x2="482.0" y2="455.4" stroke="#e89e28" stroke-width="1.1" stroke-opacity="1"/><line x1="490.0" y1="449.4" x2="490.0" y2="455.4" stroke="#e89e28" stroke-width="1.1" stroke-opacity="1"/><line x1="500.0" y1="449.4" x2="500.0" y2="455.4" stroke="#e89e28" stroke-width="1.1" stroke-opacity="1"/><line x1="506.0" y1="449.4" x2="506.0" y2="455.4" stroke="#e89e28" stroke-width="1.1" stroke-opacity="1"/><line x1="512.0" y1="449.4" x2="512.0" y2="455.4" stroke="#e89e28" stroke-width="1.1" stroke-opacity="1"/><line x1="518.0" y1="449.4" x2="518.0" y2="455.4" stroke="#e89e28" stroke-width="1.1" stroke-opacity="1"/><line x1="521.0" y1="449.4" x2="521.0" y2="455.4" stroke="#e89e28" stroke-width="1.1" stroke-opacity="1"/><line x1="490.0" y1="449.4" x2="490.0" y2="455.4" stroke="#e89e28" stroke-width="1.1" stroke-opacity="1"/><line x1="492.6" y1="449.4" x2="492.6" y2="455.4" stroke="#e89e28" stroke-width="1.1" stroke-opacity="1"/><line x1="495.2" y1="449.4" x2="495.2" y2="455.4" stroke="#e89e28" stroke-width="1.1" stroke-opacity="1"/><line x1="497.8" y1="449.4" x2="497.8" y2="455.4" stroke="#e89e28" stroke-width="1.1" stroke-opacity="1"/><line x1="500.4" y1="449.4" x2="500.4" y2="455.4" stroke="#e89e28" stroke-width="1.1" stroke-opacity="1"/><line x1="503.0" y1="449.4" x2="503.0" y2="455.4" stroke="#e89e28" stroke-width="1.1" stroke-opacity="1"/><line x1="505.6" y1="449.4" x2="505.6" y2="455.4" stroke="#e89e28" stroke-width="1.1" stroke-opacity="1"/><line x1="508.2" y1="449.4" x2="508.2" y2="455.4" stroke="#e89e28" stroke-width="1.1" stroke-opacity="1"/><line x1="510.8" y1="449.4" x2="510.8" y2="455.4" stroke="#e89e28" stroke-width="1.1" stroke-opacity="1"/><line x1="513.4" y1="449.4" x2="513.4" y2="455.4" stroke="#e89e28" stroke-width="1.1" stroke-opacity="1"/><line x1="516.0" y1="449.4" x2="516.0" y2="455.4" stroke="#e89e28" stroke-width="1.1" stroke-opacity="1"/><line x1="518.6" y1="449.4" x2="518.6" y2="455.4" stroke="#e89e28" stroke-width="1.1" stroke-opacity="1"/><line x1="521.2" y1="449.4" x2="521.2" y2="455.4" stroke="#e89e28" stroke-width="1.1" stroke-opacity="1"/><path d="M426.8,432.4H523.0" fill="none" stroke="#6494b8" stroke-width="2.2" stroke-linejoin="miter" stroke-linecap="butt"/><line x1="459.0" y1="429.4" x2="459.0" y2="435.4" stroke="#6494b8" stroke-width="1.1" stroke-opacity="1"/><line x1="471.0" y1="429.4" x2="471.0" y2="435.4" stroke="#6494b8" stroke-width="1.1" stroke-opacity="1"/><line x1="501.0" y1="429.4" x2="501.0" y2="435.4" stroke="#6494b8" stroke-width="1.1" stroke-opacity="1"/><line x1="509.0" y1="429.4" x2="509.0" y2="435.4" stroke="#6494b8" stroke-width="1.1" stroke-opacity="1"/><line x1="513.0" y1="429.4" x2="513.0" y2="435.4" stroke="#6494b8" stroke-width="1.1" stroke-opacity="1"/><line x1="517.0" y1="429.4" x2="517.0" y2="435.4" stroke="#6494b8" stroke-width="1.1" stroke-opacity="1"/><line x1="522.0" y1="429.4" x2="522.0" y2="435.4" stroke="#6494b8" stroke-width="1.1" stroke-opacity="1"/><path d="M426.8,432.4H439.2V448.1H443.6V463.8H454.0V479.5H458.4V494.7H523.0" fill="none" stroke="#d41e22" stroke-width="2.2" stroke-linejoin="miter" stroke-linecap="butt"/><line x1="469.8" y1="491.7" x2="469.8" y2="497.7" stroke="#d41e22" stroke-width="1.1" stroke-opacity="1"/><line x1="505.5" y1="491.7" x2="505.5" y2="497.7" stroke="#d41e22" stroke-width="1.1" stroke-opacity="1"/><line x1="522.0" y1="491.7" x2="522.0" y2="497.7" stroke="#d41e22" stroke-width="1.1" stroke-opacity="1"/></g>
</g></svg></body></html>
